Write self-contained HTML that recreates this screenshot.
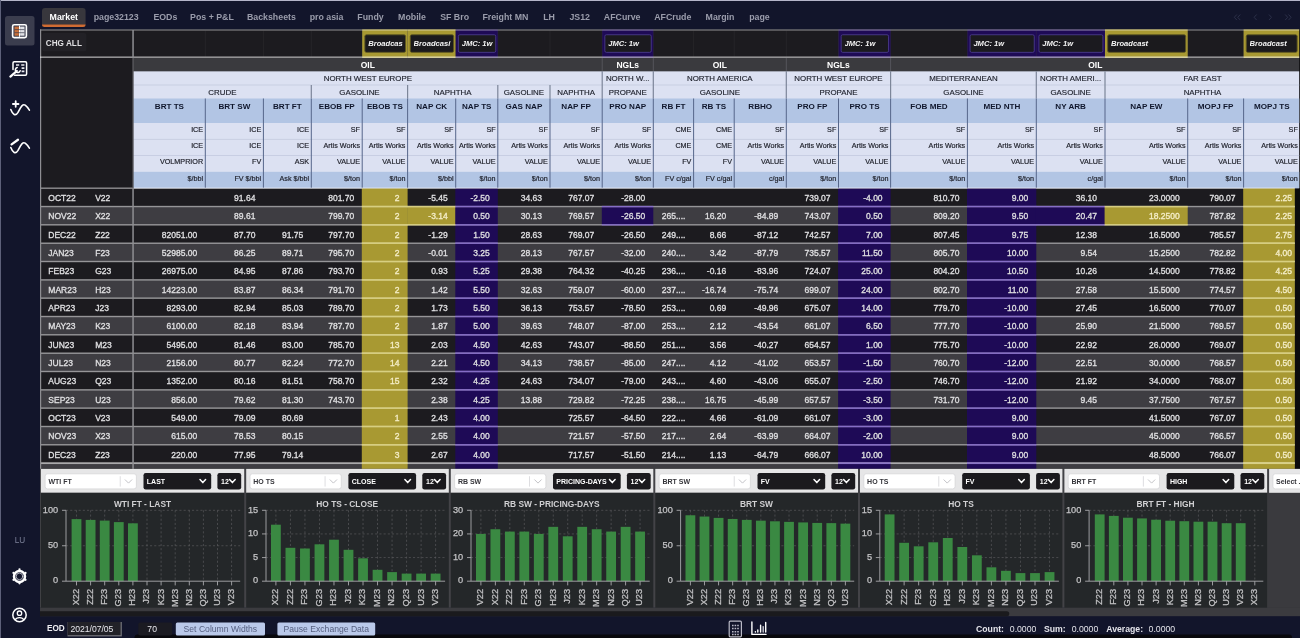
<!DOCTYPE html>
<html lang="en"><head><meta charset="utf-8"><title>Market</title>
<style>html,body{margin:0;padding:0;}
body{width:1300px;height:638px;overflow:hidden;background:#12152b;font-family:"Liberation Sans", sans-serif;position:relative;}
#app{position:absolute;left:0;top:0;width:1300px;height:638px;overflow:hidden;}
#shapes{position:absolute;left:0;top:0;}
.t{position:absolute;white-space:nowrap;overflow:hidden;box-sizing:border-box;}
.tab{font-weight:bold;font-size:8.8px;color:#9a9cab;text-align:center;}
.tab.on{color:#fff;}
.ga{font-weight:bold;font-size:8.5px;color:#fff;text-align:center;}
.gb{font-size:7.9px;color:#1c1f2a;-webkit-text-stroke:0.15px #1c1f2a;text-align:center;}
.cn{font-weight:bold;font-size:8.1px;color:#10172c;text-align:center;}
.hs{font-size:7.2px;color:#1d1f28;-webkit-text-stroke:0.18px #1d1f28;text-align:right;padding-right:2.2px;}
.d{font-weight:normal;-webkit-text-stroke:0.34px #dfdfe1;font-size:8.5px;color:#dfdfe1;text-align:right;padding-right:8px;}
.dl{font-weight:normal;-webkit-text-stroke:0.34px #dfdfe1;font-size:8.5px;color:#dfdfe1;text-align:left;padding-left:8.5px;}
.p{font-weight:normal;-webkit-text-stroke:0.34px #dfdfe1;font-size:8.5px;color:#dfdfe1;text-align:left;}
.bi{font-weight:bold;font-style:italic;font-size:7.6px;color:#f4f4f4;text-align:left;}
.tb{font-weight:bold;font-size:7px;}
.dy{color:#f4edc6;-webkit-text-stroke-color:#f4edc6;}
.st{font-size:8.6px;color:#e8e8ee;}
.ct{font-weight:bold;font-size:8.4px;color:#d0d0d2;text-align:center;}
.yl{font-size:9.2px;color:#c4c4c6;text-align:right;-webkit-text-stroke:0.25px #c4c4c6;}
.xl{font-size:9.2px;color:#c4c4c6;-webkit-text-stroke:0.25px #c4c4c6;text-align:right;transform-origin:0 0;transform:rotate(-90deg);overflow:visible;}
</style></head><body><div id="app">
<svg id="shapes" width="1300" height="638" viewBox="0 0 1300 638">
<rect x="0.00" y="0.00" width="1300.00" height="1.00" fill="#b4b5c9"/>
<rect x="0.00" y="0.00" width="1.00" height="638.00" fill="#5d6079"/>
<rect x="5.00" y="16.00" width="29.50" height="29.40" fill="#3b3d4e" rx="2.5"/>
<g fill="none" stroke="#fff" stroke-linecap="round" stroke-linejoin="round">
<rect x="12.6" y="24.7" width="13.8" height="12.9" rx="1.6" stroke-width="1.6"/>
<rect x="14.5" y="26.6" width="4.4" height="9.1" fill="#c96f3a" stroke="none"/>
<rect x="20.1" y="26.6" width="4.4" height="9.1" fill="#e3e3e8" stroke="none"/>
<path d="M19.5 26v10.4" stroke="#fff" stroke-width="1"/>
<path d="M14.5 29.6h10M14.5 32.7h10" stroke="#3b3d4e" stroke-width="0.7" stroke-linecap="butt"/>
<path d="M14.6 75.2H25.4a1.2 1.2 0 0 0 1.2-1.2V63a1.2 1.2 0 0 0-1.2-1.2H14.2a1.2 1.2 0 0 0-1.2 1.2V69.6" stroke-width="1.5"/>
<path d="M16 65h3.2M21.2 65h3.2M21.6 68.2h2.8M21.6 71.4h2.8" stroke-width="1.7" stroke="#e8e8ee" stroke-linecap="butt"/>
<path d="M10.4 76.6L16.8 71" stroke-width="2.3"/>
<path d="M17.2 67.6a2.5 2.5 0 1 0 3 3.2" stroke-width="1.5"/>
<path d="M10.8 109.6C12.6 114.6 15.6 116.6 18 112.4C20.6 107.6 22.6 103.2 25.2 105.2C26.8 106.4 28.2 108.2 29.4 110.2" stroke-width="1.6"/>
<path d="M15.7 101.2v5.6M12.9 104h5.6" stroke-width="1.8"/>
<path d="M10.8 147.6C12.6 152.6 15.6 154.6 18 150.4C20.6 145.6 22.6 141.2 25.2 143.2C26.8 144.4 28.2 146.2 29.4 148.2" stroke-width="1.6"/>
<path d="M11.6 144.4L18 139.8" stroke-width="2.3"/>
<circle cx="19.5" cy="576.4" r="5.5" stroke-width="2.5"/>
<circle cx="19.5" cy="576.4" r="3.3" stroke-width="0.8" stroke="#cfcfd8"/>
<circle cx="19.50" cy="569.50" r="1.15" fill="#fff" stroke="none"/><circle cx="25.48" cy="572.95" r="1.15" fill="#fff" stroke="none"/><circle cx="25.48" cy="579.85" r="1.15" fill="#fff" stroke="none"/><circle cx="19.50" cy="583.30" r="1.15" fill="#fff" stroke="none"/><circle cx="13.52" cy="579.85" r="1.15" fill="#fff" stroke="none"/><circle cx="13.52" cy="572.95" r="1.15" fill="#fff" stroke="none"/>
<circle cx="19.5" cy="615" r="6.7" stroke-width="1.5"/>
<circle cx="19.5" cy="613.2" r="2.2" stroke-width="1.3"/>
<path d="M15.3 619.8c1-2.8 7.4-2.8 8.4 0" stroke-width="1.3"/>
</g>
<path d="M42 24.7V11a3 3 0 0 1 3-3H82.6a3 3 0 0 1 3 3V24.7z" fill="#38373d"/>
<path d="M42 24.5H85.6a2.5 2.5 0 0 1-2.5 2.5H44.5a2.5 2.5 0 0 1-2.5-2.5z" fill="#cf6c33"/>
<g fill="none" stroke="#2c3049" stroke-width="1" stroke-linecap="round" stroke-linejoin="round">
<path d="M1236.6 14.8l-2.3 2.5 2.3 2.5M1240 14.8l-2.3 2.5 2.3 2.5"/>
<path d="M1256.4 14.8l-2.3 2.5 2.3 2.5"/>
<path d="M1269.2 14.8l2.3 2.5-2.3 2.5"/>
<path d="M1285.4 14.8l2.3 2.5-2.3 2.5M1288.8 14.8l2.3 2.5-2.3 2.5"/>
</g>
<rect x="40.00" y="29.40" width="1260.00" height="439.50" fill="#1c1b1f"/>
<rect x="1294.80" y="188.20" width="5.20" height="280.70" fill="#0b0b0d"/>
<rect x="1299.20" y="30.00" width="0.80" height="158.20" fill="#0b0b0d"/>
<rect x="362.20" y="29.40" width="45.40" height="28.60" fill="#a89932"/>
<rect x="364.85" y="34.75" width="40.70" height="17.60" fill="#1b1a1d" stroke="#5f5822" stroke-width="0.9" rx="1.5"/>
<rect x="407.60" y="29.40" width="48.10" height="28.60" fill="#a89932"/>
<rect x="410.25" y="34.75" width="43.40" height="17.60" fill="#1b1a1d" stroke="#5f5822" stroke-width="0.9" rx="1.5"/>
<rect x="455.70" y="29.40" width="42.10" height="28.60" fill="#1e0a56"/>
<rect x="458.35" y="34.75" width="37.40" height="17.60" fill="#1b1a1f" stroke="#4a3a8c" stroke-width="0.9" rx="1.5"/>
<rect x="602.20" y="29.40" width="51.10" height="28.60" fill="#1e0a56"/>
<rect x="604.85" y="34.75" width="46.40" height="17.60" fill="#1b1a1f" stroke="#4a3a8c" stroke-width="0.9" rx="1.5"/>
<rect x="838.50" y="29.40" width="52.10" height="28.60" fill="#1e0a56"/>
<rect x="841.15" y="34.75" width="47.40" height="17.60" fill="#1b1a1f" stroke="#4a3a8c" stroke-width="0.9" rx="1.5"/>
<rect x="967.40" y="29.40" width="68.90" height="28.60" fill="#1e0a56"/>
<rect x="970.05" y="34.75" width="64.20" height="17.60" fill="#1b1a1f" stroke="#4a3a8c" stroke-width="0.9" rx="1.5"/>
<rect x="1036.30" y="29.40" width="68.70" height="28.60" fill="#1e0a56"/>
<rect x="1038.95" y="34.75" width="64.00" height="17.60" fill="#1b1a1f" stroke="#4a3a8c" stroke-width="0.9" rx="1.5"/>
<rect x="1105.00" y="29.40" width="82.70" height="28.60" fill="#a89932"/>
<rect x="1107.65" y="34.75" width="78.00" height="17.60" fill="#1b1a1d" stroke="#5f5822" stroke-width="0.9" rx="1.5"/>
<rect x="1243.60" y="29.40" width="55.60" height="28.60" fill="#a89932"/>
<rect x="1246.25" y="34.75" width="50.90" height="17.60" fill="#1b1a1d" stroke="#5f5822" stroke-width="0.9" rx="1.5"/>
<rect x="42.20" y="33.00" width="44.20" height="18.20" fill="#222126" rx="2"/>
<rect x="133.00" y="58.00" width="1166.20" height="13.30" fill="#3a3a3e"/>
<rect x="133.00" y="71.30" width="1166.20" height="116.90" fill="#dce1f2"/>
<rect x="133.00" y="98.50" width="1166.20" height="24.50" fill="#b2c5e4"/>
<rect x="133.00" y="171.80" width="1166.20" height="16.40" fill="#b2c5e4"/>
<rect x="133.00" y="84.60" width="1166.20" height="0.80" fill="#c3cadf"/>
<rect x="133.00" y="138.90" width="1166.20" height="0.80" fill="#c3cadf"/>
<rect x="133.00" y="155.00" width="1166.20" height="0.80" fill="#c3cadf"/>
<rect x="601.70" y="58.00" width="1.00" height="13.30" fill="#55555b"/>
<rect x="652.80" y="58.00" width="1.00" height="13.30" fill="#55555b"/>
<rect x="785.80" y="58.00" width="1.00" height="13.30" fill="#55555b"/>
<rect x="890.10" y="58.00" width="1.00" height="13.30" fill="#55555b"/>
<rect x="601.60" y="71.30" width="1.20" height="13.70" fill="#7d8699"/>
<rect x="652.70" y="71.30" width="1.20" height="13.70" fill="#7d8699"/>
<rect x="785.70" y="71.30" width="1.20" height="13.70" fill="#7d8699"/>
<rect x="890.00" y="71.30" width="1.20" height="13.70" fill="#7d8699"/>
<rect x="1035.70" y="71.30" width="1.20" height="13.70" fill="#7d8699"/>
<rect x="1104.40" y="71.30" width="1.20" height="13.70" fill="#7d8699"/>
<rect x="310.70" y="85.00" width="1.20" height="13.50" fill="#7d8699"/>
<rect x="407.00" y="85.00" width="1.20" height="13.50" fill="#7d8699"/>
<rect x="497.20" y="85.00" width="1.20" height="13.50" fill="#7d8699"/>
<rect x="549.40" y="85.00" width="1.20" height="13.50" fill="#7d8699"/>
<rect x="601.60" y="85.00" width="1.20" height="13.50" fill="#7d8699"/>
<rect x="652.70" y="85.00" width="1.20" height="13.50" fill="#7d8699"/>
<rect x="785.70" y="85.00" width="1.20" height="13.50" fill="#7d8699"/>
<rect x="890.00" y="85.00" width="1.20" height="13.50" fill="#7d8699"/>
<rect x="1035.70" y="85.00" width="1.20" height="13.50" fill="#7d8699"/>
<rect x="1104.40" y="85.00" width="1.20" height="13.50" fill="#7d8699"/>
<rect x="204.80" y="98.50" width="1.00" height="89.70" fill="#56668a"/>
<rect x="262.90" y="98.50" width="1.00" height="89.70" fill="#56668a"/>
<rect x="310.80" y="98.50" width="1.00" height="89.70" fill="#56668a"/>
<rect x="361.70" y="98.50" width="1.00" height="89.70" fill="#56668a"/>
<rect x="407.10" y="98.50" width="1.00" height="89.70" fill="#56668a"/>
<rect x="455.20" y="98.50" width="1.00" height="89.70" fill="#56668a"/>
<rect x="497.30" y="98.50" width="1.00" height="89.70" fill="#56668a"/>
<rect x="549.50" y="98.50" width="1.00" height="89.70" fill="#56668a"/>
<rect x="601.70" y="98.50" width="1.00" height="89.70" fill="#56668a"/>
<rect x="652.80" y="98.50" width="1.00" height="89.70" fill="#56668a"/>
<rect x="693.10" y="98.50" width="1.00" height="89.70" fill="#56668a"/>
<rect x="733.70" y="98.50" width="1.00" height="89.70" fill="#56668a"/>
<rect x="785.80" y="98.50" width="1.00" height="89.70" fill="#56668a"/>
<rect x="838.00" y="98.50" width="1.00" height="89.70" fill="#56668a"/>
<rect x="890.10" y="98.50" width="1.00" height="89.70" fill="#56668a"/>
<rect x="966.90" y="98.50" width="1.00" height="89.70" fill="#56668a"/>
<rect x="1035.80" y="98.50" width="1.00" height="89.70" fill="#56668a"/>
<rect x="1104.50" y="98.50" width="1.00" height="89.70" fill="#56668a"/>
<rect x="1187.20" y="98.50" width="1.00" height="89.70" fill="#56668a"/>
<rect x="1243.10" y="98.50" width="1.00" height="89.70" fill="#56668a"/>
<rect x="361.80" y="188.20" width="45.80" height="18.33" fill="#a89932"/>
<rect x="455.30" y="188.20" width="42.50" height="18.33" fill="#1e0a56"/>
<rect x="838.10" y="188.20" width="52.50" height="18.33" fill="#1e0a56"/>
<rect x="967.00" y="188.20" width="69.30" height="18.33" fill="#1e0a56"/>
<rect x="1243.20" y="188.20" width="51.60" height="18.33" fill="#a89932"/>
<rect x="40.50" y="187.50" width="1254.30" height="1.40" fill="#ffffff" fill-opacity="0.5"/>
<rect x="40.50" y="206.53" width="1254.30" height="18.33" fill="#3e3d42"/>
<rect x="361.80" y="206.53" width="45.80" height="18.33" fill="#a89932"/>
<rect x="407.20" y="206.53" width="48.50" height="18.33" fill="#a89932"/>
<rect x="455.30" y="206.53" width="42.50" height="18.33" fill="#1e0a56"/>
<rect x="601.80" y="206.53" width="51.50" height="18.33" fill="#1e0a56"/>
<rect x="838.10" y="206.53" width="52.50" height="18.33" fill="#1e0a56"/>
<rect x="967.00" y="206.53" width="69.30" height="18.33" fill="#1e0a56"/>
<rect x="1035.90" y="206.53" width="69.10" height="18.33" fill="#1e0a56"/>
<rect x="1104.60" y="206.53" width="83.10" height="18.33" fill="#a89932"/>
<rect x="1243.20" y="206.53" width="51.60" height="18.33" fill="#a89932"/>
<rect x="40.50" y="205.83" width="1254.30" height="1.40" fill="#ffffff" fill-opacity="0.5"/>
<rect x="361.80" y="205.83" width="45.80" height="1.40" fill="#dcd27c" fill-opacity="0.85"/>
<rect x="407.20" y="205.83" width="48.50" height="1.40" fill="#dcd27c" fill-opacity="0.85"/>
<rect x="455.30" y="205.83" width="42.50" height="1.40" fill="#8468cc" fill-opacity="0.85"/>
<rect x="601.80" y="205.83" width="51.50" height="1.40" fill="#8468cc" fill-opacity="0.85"/>
<rect x="838.10" y="205.83" width="52.50" height="1.40" fill="#8468cc" fill-opacity="0.85"/>
<rect x="967.00" y="205.83" width="69.30" height="1.40" fill="#8468cc" fill-opacity="0.85"/>
<rect x="1035.90" y="205.83" width="69.10" height="1.40" fill="#8468cc" fill-opacity="0.85"/>
<rect x="1104.60" y="205.83" width="83.10" height="1.40" fill="#dcd27c" fill-opacity="0.85"/>
<rect x="1243.20" y="205.83" width="51.60" height="1.40" fill="#dcd27c" fill-opacity="0.85"/>
<rect x="361.80" y="224.86" width="45.80" height="18.33" fill="#a89932"/>
<rect x="455.30" y="224.86" width="42.50" height="18.33" fill="#1e0a56"/>
<rect x="838.10" y="224.86" width="52.50" height="18.33" fill="#1e0a56"/>
<rect x="967.00" y="224.86" width="69.30" height="18.33" fill="#1e0a56"/>
<rect x="1243.20" y="224.86" width="51.60" height="18.33" fill="#a89932"/>
<rect x="40.50" y="224.16" width="1254.30" height="1.40" fill="#ffffff" fill-opacity="0.5"/>
<rect x="361.80" y="224.16" width="45.80" height="1.40" fill="#dcd27c" fill-opacity="0.85"/>
<rect x="407.20" y="224.16" width="48.50" height="1.40" fill="#dcd27c" fill-opacity="0.85"/>
<rect x="455.30" y="224.16" width="42.50" height="1.40" fill="#8468cc" fill-opacity="0.85"/>
<rect x="601.80" y="224.16" width="51.50" height="1.40" fill="#8468cc" fill-opacity="0.85"/>
<rect x="838.10" y="224.16" width="52.50" height="1.40" fill="#8468cc" fill-opacity="0.85"/>
<rect x="967.00" y="224.16" width="69.30" height="1.40" fill="#8468cc" fill-opacity="0.85"/>
<rect x="1035.90" y="224.16" width="69.10" height="1.40" fill="#8468cc" fill-opacity="0.85"/>
<rect x="1104.60" y="224.16" width="83.10" height="1.40" fill="#dcd27c" fill-opacity="0.85"/>
<rect x="1243.20" y="224.16" width="51.60" height="1.40" fill="#dcd27c" fill-opacity="0.85"/>
<rect x="40.50" y="243.19" width="1254.30" height="18.33" fill="#3e3d42"/>
<rect x="361.80" y="243.19" width="45.80" height="18.33" fill="#a89932"/>
<rect x="455.30" y="243.19" width="42.50" height="18.33" fill="#1e0a56"/>
<rect x="838.10" y="243.19" width="52.50" height="18.33" fill="#1e0a56"/>
<rect x="967.00" y="243.19" width="69.30" height="18.33" fill="#1e0a56"/>
<rect x="1243.20" y="243.19" width="51.60" height="18.33" fill="#a89932"/>
<rect x="40.50" y="242.49" width="1254.30" height="1.40" fill="#ffffff" fill-opacity="0.5"/>
<rect x="361.80" y="242.49" width="45.80" height="1.40" fill="#dcd27c" fill-opacity="0.85"/>
<rect x="455.30" y="242.49" width="42.50" height="1.40" fill="#8468cc" fill-opacity="0.85"/>
<rect x="838.10" y="242.49" width="52.50" height="1.40" fill="#8468cc" fill-opacity="0.85"/>
<rect x="967.00" y="242.49" width="69.30" height="1.40" fill="#8468cc" fill-opacity="0.85"/>
<rect x="1243.20" y="242.49" width="51.60" height="1.40" fill="#dcd27c" fill-opacity="0.85"/>
<rect x="361.80" y="261.52" width="45.80" height="18.33" fill="#a89932"/>
<rect x="455.30" y="261.52" width="42.50" height="18.33" fill="#1e0a56"/>
<rect x="838.10" y="261.52" width="52.50" height="18.33" fill="#1e0a56"/>
<rect x="967.00" y="261.52" width="69.30" height="18.33" fill="#1e0a56"/>
<rect x="1243.20" y="261.52" width="51.60" height="18.33" fill="#a89932"/>
<rect x="40.50" y="260.82" width="1254.30" height="1.40" fill="#ffffff" fill-opacity="0.5"/>
<rect x="361.80" y="260.82" width="45.80" height="1.40" fill="#dcd27c" fill-opacity="0.85"/>
<rect x="455.30" y="260.82" width="42.50" height="1.40" fill="#8468cc" fill-opacity="0.85"/>
<rect x="838.10" y="260.82" width="52.50" height="1.40" fill="#8468cc" fill-opacity="0.85"/>
<rect x="967.00" y="260.82" width="69.30" height="1.40" fill="#8468cc" fill-opacity="0.85"/>
<rect x="1243.20" y="260.82" width="51.60" height="1.40" fill="#dcd27c" fill-opacity="0.85"/>
<rect x="40.50" y="279.85" width="1254.30" height="18.33" fill="#3e3d42"/>
<rect x="361.80" y="279.85" width="45.80" height="18.33" fill="#a89932"/>
<rect x="455.30" y="279.85" width="42.50" height="18.33" fill="#1e0a56"/>
<rect x="838.10" y="279.85" width="52.50" height="18.33" fill="#1e0a56"/>
<rect x="967.00" y="279.85" width="69.30" height="18.33" fill="#1e0a56"/>
<rect x="1243.20" y="279.85" width="51.60" height="18.33" fill="#a89932"/>
<rect x="40.50" y="279.15" width="1254.30" height="1.40" fill="#ffffff" fill-opacity="0.5"/>
<rect x="361.80" y="279.15" width="45.80" height="1.40" fill="#dcd27c" fill-opacity="0.85"/>
<rect x="455.30" y="279.15" width="42.50" height="1.40" fill="#8468cc" fill-opacity="0.85"/>
<rect x="838.10" y="279.15" width="52.50" height="1.40" fill="#8468cc" fill-opacity="0.85"/>
<rect x="967.00" y="279.15" width="69.30" height="1.40" fill="#8468cc" fill-opacity="0.85"/>
<rect x="1243.20" y="279.15" width="51.60" height="1.40" fill="#dcd27c" fill-opacity="0.85"/>
<rect x="361.80" y="298.18" width="45.80" height="18.33" fill="#a89932"/>
<rect x="455.30" y="298.18" width="42.50" height="18.33" fill="#1e0a56"/>
<rect x="838.10" y="298.18" width="52.50" height="18.33" fill="#1e0a56"/>
<rect x="967.00" y="298.18" width="69.30" height="18.33" fill="#1e0a56"/>
<rect x="1243.20" y="298.18" width="51.60" height="18.33" fill="#a89932"/>
<rect x="40.50" y="297.48" width="1254.30" height="1.40" fill="#ffffff" fill-opacity="0.5"/>
<rect x="361.80" y="297.48" width="45.80" height="1.40" fill="#dcd27c" fill-opacity="0.85"/>
<rect x="455.30" y="297.48" width="42.50" height="1.40" fill="#8468cc" fill-opacity="0.85"/>
<rect x="838.10" y="297.48" width="52.50" height="1.40" fill="#8468cc" fill-opacity="0.85"/>
<rect x="967.00" y="297.48" width="69.30" height="1.40" fill="#8468cc" fill-opacity="0.85"/>
<rect x="1243.20" y="297.48" width="51.60" height="1.40" fill="#dcd27c" fill-opacity="0.85"/>
<rect x="40.50" y="316.51" width="1254.30" height="18.33" fill="#3e3d42"/>
<rect x="361.80" y="316.51" width="45.80" height="18.33" fill="#a89932"/>
<rect x="455.30" y="316.51" width="42.50" height="18.33" fill="#1e0a56"/>
<rect x="838.10" y="316.51" width="52.50" height="18.33" fill="#1e0a56"/>
<rect x="967.00" y="316.51" width="69.30" height="18.33" fill="#1e0a56"/>
<rect x="1243.20" y="316.51" width="51.60" height="18.33" fill="#a89932"/>
<rect x="40.50" y="315.81" width="1254.30" height="1.40" fill="#ffffff" fill-opacity="0.5"/>
<rect x="361.80" y="315.81" width="45.80" height="1.40" fill="#dcd27c" fill-opacity="0.85"/>
<rect x="455.30" y="315.81" width="42.50" height="1.40" fill="#8468cc" fill-opacity="0.85"/>
<rect x="838.10" y="315.81" width="52.50" height="1.40" fill="#8468cc" fill-opacity="0.85"/>
<rect x="967.00" y="315.81" width="69.30" height="1.40" fill="#8468cc" fill-opacity="0.85"/>
<rect x="1243.20" y="315.81" width="51.60" height="1.40" fill="#dcd27c" fill-opacity="0.85"/>
<rect x="361.80" y="334.84" width="45.80" height="18.33" fill="#a89932"/>
<rect x="455.30" y="334.84" width="42.50" height="18.33" fill="#1e0a56"/>
<rect x="838.10" y="334.84" width="52.50" height="18.33" fill="#1e0a56"/>
<rect x="967.00" y="334.84" width="69.30" height="18.33" fill="#1e0a56"/>
<rect x="1243.20" y="334.84" width="51.60" height="18.33" fill="#a89932"/>
<rect x="40.50" y="334.14" width="1254.30" height="1.40" fill="#ffffff" fill-opacity="0.5"/>
<rect x="361.80" y="334.14" width="45.80" height="1.40" fill="#dcd27c" fill-opacity="0.85"/>
<rect x="455.30" y="334.14" width="42.50" height="1.40" fill="#8468cc" fill-opacity="0.85"/>
<rect x="838.10" y="334.14" width="52.50" height="1.40" fill="#8468cc" fill-opacity="0.85"/>
<rect x="967.00" y="334.14" width="69.30" height="1.40" fill="#8468cc" fill-opacity="0.85"/>
<rect x="1243.20" y="334.14" width="51.60" height="1.40" fill="#dcd27c" fill-opacity="0.85"/>
<rect x="40.50" y="353.17" width="1254.30" height="18.33" fill="#3e3d42"/>
<rect x="361.80" y="353.17" width="45.80" height="18.33" fill="#a89932"/>
<rect x="455.30" y="353.17" width="42.50" height="18.33" fill="#1e0a56"/>
<rect x="838.10" y="353.17" width="52.50" height="18.33" fill="#1e0a56"/>
<rect x="967.00" y="353.17" width="69.30" height="18.33" fill="#1e0a56"/>
<rect x="1243.20" y="353.17" width="51.60" height="18.33" fill="#a89932"/>
<rect x="40.50" y="352.47" width="1254.30" height="1.40" fill="#ffffff" fill-opacity="0.5"/>
<rect x="361.80" y="352.47" width="45.80" height="1.40" fill="#dcd27c" fill-opacity="0.85"/>
<rect x="455.30" y="352.47" width="42.50" height="1.40" fill="#8468cc" fill-opacity="0.85"/>
<rect x="838.10" y="352.47" width="52.50" height="1.40" fill="#8468cc" fill-opacity="0.85"/>
<rect x="967.00" y="352.47" width="69.30" height="1.40" fill="#8468cc" fill-opacity="0.85"/>
<rect x="1243.20" y="352.47" width="51.60" height="1.40" fill="#dcd27c" fill-opacity="0.85"/>
<rect x="361.80" y="371.50" width="45.80" height="18.33" fill="#a89932"/>
<rect x="455.30" y="371.50" width="42.50" height="18.33" fill="#1e0a56"/>
<rect x="838.10" y="371.50" width="52.50" height="18.33" fill="#1e0a56"/>
<rect x="967.00" y="371.50" width="69.30" height="18.33" fill="#1e0a56"/>
<rect x="1243.20" y="371.50" width="51.60" height="18.33" fill="#a89932"/>
<rect x="40.50" y="370.80" width="1254.30" height="1.40" fill="#ffffff" fill-opacity="0.5"/>
<rect x="361.80" y="370.80" width="45.80" height="1.40" fill="#dcd27c" fill-opacity="0.85"/>
<rect x="455.30" y="370.80" width="42.50" height="1.40" fill="#8468cc" fill-opacity="0.85"/>
<rect x="838.10" y="370.80" width="52.50" height="1.40" fill="#8468cc" fill-opacity="0.85"/>
<rect x="967.00" y="370.80" width="69.30" height="1.40" fill="#8468cc" fill-opacity="0.85"/>
<rect x="1243.20" y="370.80" width="51.60" height="1.40" fill="#dcd27c" fill-opacity="0.85"/>
<rect x="40.50" y="389.83" width="1254.30" height="18.33" fill="#3e3d42"/>
<rect x="361.80" y="389.83" width="45.80" height="18.33" fill="#a89932"/>
<rect x="455.30" y="389.83" width="42.50" height="18.33" fill="#1e0a56"/>
<rect x="838.10" y="389.83" width="52.50" height="18.33" fill="#1e0a56"/>
<rect x="967.00" y="389.83" width="69.30" height="18.33" fill="#1e0a56"/>
<rect x="1243.20" y="389.83" width="51.60" height="18.33" fill="#a89932"/>
<rect x="40.50" y="389.13" width="1254.30" height="1.40" fill="#ffffff" fill-opacity="0.5"/>
<rect x="361.80" y="389.13" width="45.80" height="1.40" fill="#dcd27c" fill-opacity="0.85"/>
<rect x="455.30" y="389.13" width="42.50" height="1.40" fill="#8468cc" fill-opacity="0.85"/>
<rect x="838.10" y="389.13" width="52.50" height="1.40" fill="#8468cc" fill-opacity="0.85"/>
<rect x="967.00" y="389.13" width="69.30" height="1.40" fill="#8468cc" fill-opacity="0.85"/>
<rect x="1243.20" y="389.13" width="51.60" height="1.40" fill="#dcd27c" fill-opacity="0.85"/>
<rect x="361.80" y="408.16" width="45.80" height="18.33" fill="#a89932"/>
<rect x="455.30" y="408.16" width="42.50" height="18.33" fill="#1e0a56"/>
<rect x="838.10" y="408.16" width="52.50" height="18.33" fill="#1e0a56"/>
<rect x="967.00" y="408.16" width="69.30" height="18.33" fill="#1e0a56"/>
<rect x="1243.20" y="408.16" width="51.60" height="18.33" fill="#a89932"/>
<rect x="40.50" y="407.46" width="1254.30" height="1.40" fill="#ffffff" fill-opacity="0.5"/>
<rect x="361.80" y="407.46" width="45.80" height="1.40" fill="#dcd27c" fill-opacity="0.85"/>
<rect x="455.30" y="407.46" width="42.50" height="1.40" fill="#8468cc" fill-opacity="0.85"/>
<rect x="838.10" y="407.46" width="52.50" height="1.40" fill="#8468cc" fill-opacity="0.85"/>
<rect x="967.00" y="407.46" width="69.30" height="1.40" fill="#8468cc" fill-opacity="0.85"/>
<rect x="1243.20" y="407.46" width="51.60" height="1.40" fill="#dcd27c" fill-opacity="0.85"/>
<rect x="40.50" y="426.49" width="1254.30" height="18.33" fill="#3e3d42"/>
<rect x="361.80" y="426.49" width="45.80" height="18.33" fill="#a89932"/>
<rect x="455.30" y="426.49" width="42.50" height="18.33" fill="#1e0a56"/>
<rect x="838.10" y="426.49" width="52.50" height="18.33" fill="#1e0a56"/>
<rect x="967.00" y="426.49" width="69.30" height="18.33" fill="#1e0a56"/>
<rect x="1243.20" y="426.49" width="51.60" height="18.33" fill="#a89932"/>
<rect x="40.50" y="425.79" width="1254.30" height="1.40" fill="#ffffff" fill-opacity="0.5"/>
<rect x="361.80" y="425.79" width="45.80" height="1.40" fill="#dcd27c" fill-opacity="0.85"/>
<rect x="455.30" y="425.79" width="42.50" height="1.40" fill="#8468cc" fill-opacity="0.85"/>
<rect x="838.10" y="425.79" width="52.50" height="1.40" fill="#8468cc" fill-opacity="0.85"/>
<rect x="967.00" y="425.79" width="69.30" height="1.40" fill="#8468cc" fill-opacity="0.85"/>
<rect x="1243.20" y="425.79" width="51.60" height="1.40" fill="#dcd27c" fill-opacity="0.85"/>
<rect x="361.80" y="444.82" width="45.80" height="18.33" fill="#a89932"/>
<rect x="455.30" y="444.82" width="42.50" height="18.33" fill="#1e0a56"/>
<rect x="838.10" y="444.82" width="52.50" height="18.33" fill="#1e0a56"/>
<rect x="967.00" y="444.82" width="69.30" height="18.33" fill="#1e0a56"/>
<rect x="1243.20" y="444.82" width="51.60" height="18.33" fill="#a89932"/>
<rect x="40.50" y="444.12" width="1254.30" height="1.40" fill="#ffffff" fill-opacity="0.5"/>
<rect x="361.80" y="444.12" width="45.80" height="1.40" fill="#dcd27c" fill-opacity="0.85"/>
<rect x="455.30" y="444.12" width="42.50" height="1.40" fill="#8468cc" fill-opacity="0.85"/>
<rect x="838.10" y="444.12" width="52.50" height="1.40" fill="#8468cc" fill-opacity="0.85"/>
<rect x="967.00" y="444.12" width="69.30" height="1.40" fill="#8468cc" fill-opacity="0.85"/>
<rect x="1243.20" y="444.12" width="51.60" height="1.40" fill="#dcd27c" fill-opacity="0.85"/>
<rect x="40.50" y="463.15" width="1254.30" height="5.75" fill="#3e3d42"/>
<rect x="361.80" y="463.15" width="45.80" height="5.75" fill="#a89932"/>
<rect x="455.30" y="463.15" width="42.50" height="5.75" fill="#1e0a56"/>
<rect x="838.10" y="463.15" width="52.50" height="5.75" fill="#1e0a56"/>
<rect x="967.00" y="463.15" width="69.30" height="5.75" fill="#1e0a56"/>
<rect x="1243.20" y="463.15" width="51.60" height="5.75" fill="#a89932"/>
<rect x="40.50" y="462.45" width="1254.30" height="1.40" fill="#ffffff" fill-opacity="0.5"/>
<rect x="40.50" y="461.95" width="1254.30" height="2.20" fill="#ffffff" fill-opacity="0.25"/>
<rect x="361.80" y="462.45" width="45.80" height="1.40" fill="#dcd27c" fill-opacity="0.85"/>
<rect x="455.30" y="462.45" width="42.50" height="1.40" fill="#8468cc" fill-opacity="0.85"/>
<rect x="838.10" y="462.45" width="52.50" height="1.40" fill="#8468cc" fill-opacity="0.85"/>
<rect x="967.00" y="462.45" width="69.30" height="1.40" fill="#8468cc" fill-opacity="0.85"/>
<rect x="1243.20" y="462.45" width="51.60" height="1.40" fill="#dcd27c" fill-opacity="0.85"/>
<rect x="40.00" y="29.40" width="1259.20" height="1.20" fill="#ffffff" fill-opacity="0.44"/>
<rect x="204.80" y="30.60" width="1.00" height="26.00" fill="#ffffff" fill-opacity="0.045"/>
<rect x="262.90" y="30.60" width="1.00" height="26.00" fill="#ffffff" fill-opacity="0.045"/>
<rect x="310.80" y="30.60" width="1.00" height="26.00" fill="#ffffff" fill-opacity="0.045"/>
<rect x="361.70" y="30.60" width="1.00" height="26.00" fill="#ffffff" fill-opacity="0.045"/>
<rect x="407.10" y="30.60" width="1.00" height="26.00" fill="#ffffff" fill-opacity="0.045"/>
<rect x="455.20" y="30.60" width="1.00" height="26.00" fill="#ffffff" fill-opacity="0.045"/>
<rect x="497.30" y="30.60" width="1.00" height="26.00" fill="#ffffff" fill-opacity="0.045"/>
<rect x="549.50" y="30.60" width="1.00" height="26.00" fill="#ffffff" fill-opacity="0.045"/>
<rect x="601.70" y="30.60" width="1.00" height="26.00" fill="#ffffff" fill-opacity="0.045"/>
<rect x="652.80" y="30.60" width="1.00" height="26.00" fill="#ffffff" fill-opacity="0.045"/>
<rect x="693.10" y="30.60" width="1.00" height="26.00" fill="#ffffff" fill-opacity="0.045"/>
<rect x="733.70" y="30.60" width="1.00" height="26.00" fill="#ffffff" fill-opacity="0.045"/>
<rect x="785.80" y="30.60" width="1.00" height="26.00" fill="#ffffff" fill-opacity="0.045"/>
<rect x="838.00" y="30.60" width="1.00" height="26.00" fill="#ffffff" fill-opacity="0.045"/>
<rect x="890.10" y="30.60" width="1.00" height="26.00" fill="#ffffff" fill-opacity="0.045"/>
<rect x="966.90" y="30.60" width="1.00" height="26.00" fill="#ffffff" fill-opacity="0.045"/>
<rect x="1035.80" y="30.60" width="1.00" height="26.00" fill="#ffffff" fill-opacity="0.045"/>
<rect x="1104.50" y="30.60" width="1.00" height="26.00" fill="#ffffff" fill-opacity="0.045"/>
<rect x="1187.20" y="30.60" width="1.00" height="26.00" fill="#ffffff" fill-opacity="0.045"/>
<rect x="1243.10" y="30.60" width="1.00" height="26.00" fill="#ffffff" fill-opacity="0.045"/>
<rect x="40.00" y="29.40" width="1.20" height="439.50" fill="#8e8e92"/>
<rect x="40.00" y="56.40" width="1259.20" height="1.60" fill="#ffffff" fill-opacity="0.52"/>
<rect x="132.30" y="30.00" width="1.50" height="28.00" fill="#8e8e92"/>
<rect x="132.30" y="188.20" width="1.50" height="280.70" fill="#8e8e92"/>
<rect x="132.40" y="58.00" width="1.30" height="130.20" fill="#5c5c60"/>
<rect x="40.00" y="468.90" width="1260.00" height="138.90" fill="#434347"/>
<rect x="1267.10" y="492.80" width="32.90" height="115.00" fill="#3a3a3e"/>
<rect x="40.90" y="468.90" width="203.30" height="23.90" fill="#e6e6e7"/>
<rect x="40.90" y="492.80" width="203.30" height="115.00" fill="#242729"/>
<rect x="45.10" y="473.80" width="91.30" height="15.10" fill="#fff" stroke="#d6d6d8" stroke-width="0.8" rx="2.4"/>
<rect x="119.80" y="476.20" width="0.70" height="10.40" fill="#d0d0d4"/>
<rect x="143.50" y="473.00" width="67.70" height="16.40" fill="#1b1a1e" rx="2.2"/>
<rect x="217.40" y="473.00" width="23.80" height="16.40" fill="#1b1a1e" rx="2.2"/>
<path d="M125.20 479.80l3.30 3.30 3.30 -3.30" fill="none" stroke="#c4c4c8" stroke-width="1.0" stroke-linecap="round" stroke-linejoin="round"/>
<path d="M200.00 479.60l2.80 3.00 2.80 -3.00" fill="none" stroke="#fff" stroke-width="1.5" stroke-linecap="round" stroke-linejoin="round"/>
<path d="M229.60 479.60l2.80 3.00 2.80 -3.00" fill="none" stroke="#fff" stroke-width="1.5" stroke-linecap="round" stroke-linejoin="round"/>
<path d="M66.00 545.75H240.20M66.00 510.30H240.20M76.50 510.30V581.20M90.60 510.30V581.20M104.70 510.30V581.20M118.80 510.30V581.20M132.90 510.30V581.20M147.00 510.30V581.20M161.10 510.30V581.20M175.20 510.30V581.20M189.30 510.30V581.20M203.40 510.30V581.20M217.50 510.30V581.20M231.60 510.30V581.20" stroke="#5c5c60" stroke-width="0.65" stroke-dasharray="2.1 2.1" fill="none"/>
<rect x="71.60" y="519.10" width="9.80" height="62.10" fill="#3a8942"/>
<rect x="85.70" y="519.90" width="9.80" height="61.30" fill="#3a8942"/>
<rect x="99.80" y="520.60" width="9.80" height="60.60" fill="#3a8942"/>
<rect x="113.90" y="522.10" width="9.80" height="59.10" fill="#3a8942"/>
<rect x="128.00" y="523.30" width="9.80" height="57.90" fill="#3a8942"/>
<path d="M66.00 510.30V581.20H240.20M62.00 581.20H66.00M62.00 545.75H66.00M62.00 510.30H66.00M76.50 581.20v4.2M90.60 581.20v4.2M104.70 581.20v4.2M118.80 581.20v4.2M132.90 581.20v4.2M147.00 581.20v4.2M161.10 581.20v4.2M175.20 581.20v4.2M189.30 581.20v4.2M203.40 581.20v4.2M217.50 581.20v4.2M231.60 581.20v4.2" stroke="#a9a9ad" stroke-width="0.9" fill="none"/>
<rect x="246.20" y="468.90" width="202.60" height="23.90" fill="#e6e6e7"/>
<rect x="246.20" y="492.80" width="202.60" height="115.00" fill="#242729"/>
<rect x="250.00" y="473.80" width="91.30" height="15.10" fill="#fff" stroke="#d6d6d8" stroke-width="0.8" rx="2.4"/>
<rect x="324.70" y="476.20" width="0.70" height="10.40" fill="#d0d0d4"/>
<rect x="348.40" y="473.00" width="67.70" height="16.40" fill="#1b1a1e" rx="2.2"/>
<rect x="422.30" y="473.00" width="23.80" height="16.40" fill="#1b1a1e" rx="2.2"/>
<path d="M330.10 479.80l3.30 3.30 3.30 -3.30" fill="none" stroke="#c4c4c8" stroke-width="1.0" stroke-linecap="round" stroke-linejoin="round"/>
<path d="M404.90 479.60l2.80 3.00 2.80 -3.00" fill="none" stroke="#fff" stroke-width="1.5" stroke-linecap="round" stroke-linejoin="round"/>
<path d="M434.50 479.60l2.80 3.00 2.80 -3.00" fill="none" stroke="#fff" stroke-width="1.5" stroke-linecap="round" stroke-linejoin="round"/>
<path d="M266.00 557.57H445.10M266.00 533.93H445.10M266.00 510.30H445.10M275.90 510.30V581.20M290.42 510.30V581.20M304.94 510.30V581.20M319.46 510.30V581.20M333.98 510.30V581.20M348.50 510.30V581.20M363.02 510.30V581.20M377.54 510.30V581.20M392.06 510.30V581.20M406.58 510.30V581.20M421.10 510.30V581.20M435.62 510.30V581.20" stroke="#5c5c60" stroke-width="0.65" stroke-dasharray="2.1 2.1" fill="none"/>
<rect x="271.00" y="524.70" width="9.80" height="56.50" fill="#3a8942"/>
<rect x="285.52" y="547.80" width="9.80" height="33.40" fill="#3a8942"/>
<rect x="300.04" y="548.50" width="9.80" height="32.70" fill="#3a8942"/>
<rect x="314.56" y="544.30" width="9.80" height="36.90" fill="#3a8942"/>
<rect x="329.08" y="539.70" width="9.80" height="41.50" fill="#3a8942"/>
<rect x="343.60" y="549.80" width="9.80" height="31.40" fill="#3a8942"/>
<rect x="358.12" y="558.30" width="9.80" height="22.90" fill="#3a8942"/>
<rect x="372.64" y="569.80" width="9.80" height="11.40" fill="#3a8942"/>
<rect x="387.16" y="572.10" width="9.80" height="9.10" fill="#3a8942"/>
<rect x="401.68" y="573.60" width="9.80" height="7.60" fill="#3a8942"/>
<rect x="416.20" y="573.60" width="9.80" height="7.60" fill="#3a8942"/>
<rect x="430.72" y="573.60" width="9.80" height="7.60" fill="#3a8942"/>
<path d="M266.00 510.30V581.20H445.10M262.00 581.20H266.00M262.00 557.57H266.00M262.00 533.93H266.00M262.00 510.30H266.00M275.90 581.20v4.2M290.42 581.20v4.2M304.94 581.20v4.2M319.46 581.20v4.2M333.98 581.20v4.2M348.50 581.20v4.2M363.02 581.20v4.2M377.54 581.20v4.2M392.06 581.20v4.2M406.58 581.20v4.2M421.10 581.20v4.2M435.62 581.20v4.2" stroke="#a9a9ad" stroke-width="0.9" fill="none"/>
<rect x="450.80" y="468.90" width="202.50" height="23.90" fill="#e6e6e7"/>
<rect x="450.80" y="492.80" width="202.50" height="115.00" fill="#242729"/>
<rect x="454.60" y="473.80" width="91.30" height="15.10" fill="#fff" stroke="#d6d6d8" stroke-width="0.8" rx="2.4"/>
<rect x="529.30" y="476.20" width="0.70" height="10.40" fill="#d0d0d4"/>
<rect x="553.00" y="473.00" width="67.70" height="16.40" fill="#1b1a1e" rx="2.2"/>
<rect x="626.90" y="473.00" width="23.80" height="16.40" fill="#1b1a1e" rx="2.2"/>
<path d="M534.70 479.80l3.30 3.30 3.30 -3.30" fill="none" stroke="#c4c4c8" stroke-width="1.0" stroke-linecap="round" stroke-linejoin="round"/>
<path d="M609.50 479.60l2.80 3.00 2.80 -3.00" fill="none" stroke="#fff" stroke-width="1.5" stroke-linecap="round" stroke-linejoin="round"/>
<path d="M639.10 479.60l2.80 3.00 2.80 -3.00" fill="none" stroke="#fff" stroke-width="1.5" stroke-linecap="round" stroke-linejoin="round"/>
<path d="M471.00 557.57H649.70M471.00 533.93H649.70M471.00 510.30H649.70M480.90 510.30V581.20M495.37 510.30V581.20M509.84 510.30V581.20M524.31 510.30V581.20M538.78 510.30V581.20M553.25 510.30V581.20M567.72 510.30V581.20M582.19 510.30V581.20M596.66 510.30V581.20M611.13 510.30V581.20M625.60 510.30V581.20M640.07 510.30V581.20" stroke="#5c5c60" stroke-width="0.65" stroke-dasharray="2.1 2.1" fill="none"/>
<rect x="476.00" y="533.93" width="9.80" height="47.27" fill="#3a8942"/>
<rect x="490.47" y="529.21" width="9.80" height="51.99" fill="#3a8942"/>
<rect x="504.94" y="531.57" width="9.80" height="49.63" fill="#3a8942"/>
<rect x="519.41" y="531.57" width="9.80" height="49.63" fill="#3a8942"/>
<rect x="533.88" y="533.93" width="9.80" height="47.27" fill="#3a8942"/>
<rect x="548.35" y="526.84" width="9.80" height="54.36" fill="#3a8942"/>
<rect x="562.82" y="536.30" width="9.80" height="44.90" fill="#3a8942"/>
<rect x="577.29" y="526.84" width="9.80" height="54.36" fill="#3a8942"/>
<rect x="591.76" y="529.21" width="9.80" height="51.99" fill="#3a8942"/>
<rect x="606.23" y="531.57" width="9.80" height="49.63" fill="#3a8942"/>
<rect x="620.70" y="526.84" width="9.80" height="54.36" fill="#3a8942"/>
<rect x="635.17" y="531.57" width="9.80" height="49.63" fill="#3a8942"/>
<path d="M471.00 510.30V581.20H649.70M467.00 581.20H471.00M467.00 557.57H471.00M467.00 533.93H471.00M467.00 510.30H471.00M480.90 581.20v4.2M495.37 581.20v4.2M509.84 581.20v4.2M524.31 581.20v4.2M538.78 581.20v4.2M553.25 581.20v4.2M567.72 581.20v4.2M582.19 581.20v4.2M596.66 581.20v4.2M611.13 581.20v4.2M625.60 581.20v4.2M640.07 581.20v4.2" stroke="#a9a9ad" stroke-width="0.9" fill="none"/>
<rect x="655.30" y="468.90" width="202.70" height="23.90" fill="#e6e6e7"/>
<rect x="655.30" y="492.80" width="202.70" height="115.00" fill="#242729"/>
<rect x="659.10" y="473.80" width="91.30" height="15.10" fill="#fff" stroke="#d6d6d8" stroke-width="0.8" rx="2.4"/>
<rect x="733.80" y="476.20" width="0.70" height="10.40" fill="#d0d0d4"/>
<rect x="757.50" y="473.00" width="67.70" height="16.40" fill="#1b1a1e" rx="2.2"/>
<rect x="831.40" y="473.00" width="23.80" height="16.40" fill="#1b1a1e" rx="2.2"/>
<path d="M739.20 479.80l3.30 3.30 3.30 -3.30" fill="none" stroke="#c4c4c8" stroke-width="1.0" stroke-linecap="round" stroke-linejoin="round"/>
<path d="M814.00 479.60l2.80 3.00 2.80 -3.00" fill="none" stroke="#fff" stroke-width="1.5" stroke-linecap="round" stroke-linejoin="round"/>
<path d="M843.60 479.60l2.80 3.00 2.80 -3.00" fill="none" stroke="#fff" stroke-width="1.5" stroke-linecap="round" stroke-linejoin="round"/>
<path d="M680.60 545.75H854.20M680.60 510.30H854.20M690.40 510.30V581.20M704.49 510.30V581.20M718.58 510.30V581.20M732.67 510.30V581.20M746.76 510.30V581.20M760.85 510.30V581.20M774.94 510.30V581.20M789.03 510.30V581.20M803.12 510.30V581.20M817.21 510.30V581.20M831.30 510.30V581.20M845.39 510.30V581.20" stroke="#5c5c60" stroke-width="0.65" stroke-dasharray="2.1 2.1" fill="none"/>
<rect x="685.50" y="515.26" width="9.80" height="65.94" fill="#3a8942"/>
<rect x="699.59" y="516.54" width="9.80" height="64.66" fill="#3a8942"/>
<rect x="713.68" y="517.89" width="9.80" height="63.31" fill="#3a8942"/>
<rect x="727.77" y="518.95" width="9.80" height="62.25" fill="#3a8942"/>
<rect x="741.86" y="519.87" width="9.80" height="61.33" fill="#3a8942"/>
<rect x="755.95" y="520.65" width="9.80" height="60.55" fill="#3a8942"/>
<rect x="770.04" y="521.29" width="9.80" height="59.91" fill="#3a8942"/>
<rect x="784.13" y="521.86" width="9.80" height="59.34" fill="#3a8942"/>
<rect x="798.22" y="522.42" width="9.80" height="58.78" fill="#3a8942"/>
<rect x="812.31" y="522.92" width="9.80" height="58.28" fill="#3a8942"/>
<rect x="826.40" y="523.13" width="9.80" height="58.07" fill="#3a8942"/>
<rect x="840.49" y="523.63" width="9.80" height="57.57" fill="#3a8942"/>
<path d="M680.60 510.30V581.20H854.20M676.60 581.20H680.60M676.60 545.75H680.60M676.60 510.30H680.60M690.40 581.20v4.2M704.49 581.20v4.2M718.58 581.20v4.2M732.67 581.20v4.2M746.76 581.20v4.2M760.85 581.20v4.2M774.94 581.20v4.2M789.03 581.20v4.2M803.12 581.20v4.2M817.21 581.20v4.2M831.30 581.20v4.2M845.39 581.20v4.2" stroke="#a9a9ad" stroke-width="0.9" fill="none"/>
<rect x="860.00" y="468.90" width="202.40" height="23.90" fill="#e6e6e7"/>
<rect x="860.00" y="492.80" width="202.40" height="115.00" fill="#242729"/>
<rect x="863.80" y="473.80" width="91.30" height="15.10" fill="#fff" stroke="#d6d6d8" stroke-width="0.8" rx="2.4"/>
<rect x="938.50" y="476.20" width="0.70" height="10.40" fill="#d0d0d4"/>
<rect x="962.20" y="473.00" width="67.70" height="16.40" fill="#1b1a1e" rx="2.2"/>
<rect x="1036.10" y="473.00" width="23.80" height="16.40" fill="#1b1a1e" rx="2.2"/>
<path d="M943.90 479.80l3.30 3.30 3.30 -3.30" fill="none" stroke="#c4c4c8" stroke-width="1.0" stroke-linecap="round" stroke-linejoin="round"/>
<path d="M1018.70 479.60l2.80 3.00 2.80 -3.00" fill="none" stroke="#fff" stroke-width="1.5" stroke-linecap="round" stroke-linejoin="round"/>
<path d="M1048.30 479.60l2.80 3.00 2.80 -3.00" fill="none" stroke="#fff" stroke-width="1.5" stroke-linecap="round" stroke-linejoin="round"/>
<path d="M879.80 557.57H1058.90M879.80 533.93H1058.90M879.80 510.30H1058.90M889.60 510.30V581.20M904.14 510.30V581.20M918.68 510.30V581.20M933.22 510.30V581.20M947.76 510.30V581.20M962.30 510.30V581.20M976.84 510.30V581.20M991.38 510.30V581.20M1005.92 510.30V581.20M1020.46 510.30V581.20M1035.00 510.30V581.20M1049.54 510.30V581.20" stroke="#5c5c60" stroke-width="0.65" stroke-dasharray="2.1 2.1" fill="none"/>
<rect x="884.70" y="514.40" width="9.80" height="66.80" fill="#3a8942"/>
<rect x="899.24" y="542.80" width="9.80" height="38.40" fill="#3a8942"/>
<rect x="913.78" y="546.30" width="9.80" height="34.90" fill="#3a8942"/>
<rect x="928.32" y="542.30" width="9.80" height="38.90" fill="#3a8942"/>
<rect x="942.86" y="538.00" width="9.80" height="43.20" fill="#3a8942"/>
<rect x="957.40" y="547.00" width="9.80" height="34.20" fill="#3a8942"/>
<rect x="971.94" y="555.30" width="9.80" height="25.90" fill="#3a8942"/>
<rect x="986.48" y="567.30" width="9.80" height="13.90" fill="#3a8942"/>
<rect x="1001.02" y="570.80" width="9.80" height="10.40" fill="#3a8942"/>
<rect x="1015.56" y="573.10" width="9.80" height="8.10" fill="#3a8942"/>
<rect x="1030.10" y="573.10" width="9.80" height="8.10" fill="#3a8942"/>
<rect x="1044.64" y="572.10" width="9.80" height="9.10" fill="#3a8942"/>
<path d="M879.80 510.30V581.20H1058.90M875.80 581.20H879.80M875.80 557.57H879.80M875.80 533.93H879.80M875.80 510.30H879.80M889.60 581.20v4.2M904.14 581.20v4.2M918.68 581.20v4.2M933.22 581.20v4.2M947.76 581.20v4.2M962.30 581.20v4.2M976.84 581.20v4.2M991.38 581.20v4.2M1005.92 581.20v4.2M1020.46 581.20v4.2M1035.00 581.20v4.2M1049.54 581.20v4.2" stroke="#a9a9ad" stroke-width="0.9" fill="none"/>
<rect x="1064.40" y="468.90" width="202.70" height="23.90" fill="#e6e6e7"/>
<rect x="1064.40" y="492.80" width="202.70" height="115.00" fill="#242729"/>
<rect x="1068.20" y="473.80" width="91.30" height="15.10" fill="#fff" stroke="#d6d6d8" stroke-width="0.8" rx="2.4"/>
<rect x="1142.90" y="476.20" width="0.70" height="10.40" fill="#d0d0d4"/>
<rect x="1166.60" y="473.00" width="67.70" height="16.40" fill="#1b1a1e" rx="2.2"/>
<rect x="1240.50" y="473.00" width="23.80" height="16.40" fill="#1b1a1e" rx="2.2"/>
<path d="M1148.30 479.80l3.30 3.30 3.30 -3.30" fill="none" stroke="#c4c4c8" stroke-width="1.0" stroke-linecap="round" stroke-linejoin="round"/>
<path d="M1223.10 479.60l2.80 3.00 2.80 -3.00" fill="none" stroke="#fff" stroke-width="1.5" stroke-linecap="round" stroke-linejoin="round"/>
<path d="M1252.70 479.60l2.80 3.00 2.80 -3.00" fill="none" stroke="#fff" stroke-width="1.5" stroke-linecap="round" stroke-linejoin="round"/>
<path d="M1089.10 545.75H1263.30M1089.10 510.30H1263.30M1099.70 510.30V581.20M1113.80 510.30V581.20M1127.90 510.30V581.20M1142.00 510.30V581.20M1156.10 510.30V581.20M1170.20 510.30V581.20M1184.30 510.30V581.20M1198.40 510.30V581.20M1212.50 510.30V581.20M1226.60 510.30V581.20M1240.70 510.30V581.20M1254.80 510.30V581.20" stroke="#5c5c60" stroke-width="0.65" stroke-dasharray="2.1 2.1" fill="none"/>
<rect x="1094.80" y="514.40" width="9.80" height="66.80" fill="#3a8942"/>
<rect x="1108.90" y="515.90" width="9.80" height="65.30" fill="#3a8942"/>
<rect x="1123.00" y="517.70" width="9.80" height="63.50" fill="#3a8942"/>
<rect x="1137.10" y="518.40" width="9.80" height="62.80" fill="#3a8942"/>
<rect x="1151.20" y="519.70" width="9.80" height="61.50" fill="#3a8942"/>
<rect x="1165.30" y="520.70" width="9.80" height="60.50" fill="#3a8942"/>
<rect x="1179.40" y="521.20" width="9.80" height="60.00" fill="#3a8942"/>
<rect x="1193.50" y="521.70" width="9.80" height="59.50" fill="#3a8942"/>
<rect x="1207.60" y="521.70" width="9.80" height="59.50" fill="#3a8942"/>
<rect x="1221.70" y="523.20" width="9.80" height="58.00" fill="#3a8942"/>
<rect x="1235.80" y="523.20" width="9.80" height="58.00" fill="#3a8942"/>
<path d="M1089.10 510.30V581.20H1263.30M1085.10 581.20H1089.10M1085.10 545.75H1089.10M1085.10 510.30H1089.10M1099.70 581.20v4.2M1113.80 581.20v4.2M1127.90 581.20v4.2M1142.00 581.20v4.2M1156.10 581.20v4.2M1170.20 581.20v4.2M1184.30 581.20v4.2M1198.40 581.20v4.2M1212.50 581.20v4.2M1226.60 581.20v4.2M1240.70 581.20v4.2M1254.80 581.20v4.2" stroke="#a9a9ad" stroke-width="0.9" fill="none"/>
<rect x="1269.10" y="468.90" width="30.90" height="23.90" fill="#e6e6e7"/>
<rect x="1272.90" y="473.80" width="36.70" height="15.10" fill="#fff" stroke="#d6d6d8" stroke-width="0.8" rx="2.4"/>
<rect x="40.00" y="607.80" width="1260.00" height="8.40" fill="#3b3b3f"/>
<path d="M40 611.2H1006.8a2.4 2.4 0 0 1 0 5H40z" fill="#1a1a1d"/>
<rect x="134.50" y="634.60" width="1157.50" height="7.40" fill="#08080c" rx="3"/>
<rect x="67.50" y="622.00" width="54.30" height="14.40" fill="#77777d"/>
<rect x="67.50" y="622.00" width="53.10" height="13.20" fill="#222228"/>
<rect x="138.30" y="622.40" width="33.90" height="13.20" fill="#1b1b22" rx="2"/>
<rect x="175.80" y="622.60" width="89.20" height="13.00" fill="#bac9ea" rx="1.5"/>
<rect x="277.40" y="622.60" width="97.80" height="13.00" fill="#bac9ea" rx="1.5"/>
<g fill="none" stroke="#b9b9c6" stroke-linecap="round" stroke-linejoin="round">
<rect x="729.2" y="621.2" width="12.2" height="15.6" rx="1" stroke-width="1.2"/>
<path d="M732 625.4h6.8M732 628.6h6.8M732 631.8h6.8M732 634.6h6.8" stroke-width="1.5" stroke-dasharray="1.6 1" stroke-linecap="butt"/>
<path d="M751.9 621.9V634.4H766" stroke="#fff" stroke-width="1.4"/>
<path d="M755.4 631.6v.4M757.8 630v2M760.6 625.2v6.8M765.7 622.4v9.6" stroke="#fff" stroke-width="1.4"/>
<path d="M763.2 626.6v5.4" stroke="#c9c9d2" stroke-width="1.4"/>
</g>
</svg>
<div class="t" style="left:10.00px;top:535.00px;width:20.00px;height:12.00px;line-height:12.00px;font-size:8.2px;color:#7b8098;text-align:center;">LU</div>
<div class="t tab on" style="left:41.80px;top:10.00px;width:44.00px;height:14.40px;line-height:14.40px;">Market</div>
<div class="t tab" style="left:85.50px;top:10.00px;width:61.30px;height:14.40px;line-height:14.40px;">page32123</div>
<div class="t tab" style="left:146.50px;top:10.00px;width:37.80px;height:14.40px;line-height:14.40px;">EODs</div>
<div class="t tab" style="left:183.70px;top:10.00px;width:56.60px;height:14.40px;line-height:14.40px;">Pos + P&amp;L</div>
<div class="t tab" style="left:240.00px;top:10.00px;width:62.80px;height:14.40px;line-height:14.40px;">Backsheets</div>
<div class="t tab" style="left:302.50px;top:10.00px;width:48.00px;height:14.40px;line-height:14.40px;">pro asia</div>
<div class="t tab" style="left:350.20px;top:10.00px;width:40.60px;height:14.40px;line-height:14.40px;">Fundy</div>
<div class="t tab" style="left:390.80px;top:10.00px;width:42.40px;height:14.40px;line-height:14.40px;">Mobile</div>
<div class="t tab" style="left:433.50px;top:10.00px;width:42.20px;height:14.40px;line-height:14.40px;">SF Bro</div>
<div class="t tab" style="left:475.10px;top:10.00px;width:60.60px;height:14.40px;line-height:14.40px;">Freight MN</div>
<div class="t tab" style="left:535.70px;top:10.00px;width:26.80px;height:14.40px;line-height:14.40px;">LH</div>
<div class="t tab" style="left:562.20px;top:10.00px;width:35.00px;height:14.40px;line-height:14.40px;">JS12</div>
<div class="t tab" style="left:596.90px;top:10.00px;width:50.50px;height:14.40px;line-height:14.40px;">AFCurve</div>
<div class="t tab" style="left:647.40px;top:10.00px;width:50.80px;height:14.40px;line-height:14.40px;">AFCrude</div>
<div class="t tab" style="left:698.20px;top:10.00px;width:43.60px;height:14.40px;line-height:14.40px;">Margin</div>
<div class="t tab" style="left:741.80px;top:10.00px;width:35.40px;height:14.40px;line-height:14.40px;">page</div>
<div class="t bi" style="left:368.20px;top:35.40px;width:36.00px;height:17.00px;line-height:17.00px;">Broadcas</div>
<div class="t bi" style="left:413.60px;top:35.40px;width:38.70px;height:17.00px;line-height:17.00px;">Broadcasi</div>
<div class="t bi" style="left:461.70px;top:35.40px;width:32.70px;height:17.00px;line-height:17.00px;">JMC: 1w</div>
<div class="t bi" style="left:608.20px;top:35.40px;width:41.70px;height:17.00px;line-height:17.00px;">JMC: 1w</div>
<div class="t bi" style="left:844.50px;top:35.40px;width:42.70px;height:17.00px;line-height:17.00px;">JMC: 1w</div>
<div class="t bi" style="left:973.40px;top:35.40px;width:59.50px;height:17.00px;line-height:17.00px;">JMC: 1w</div>
<div class="t bi" style="left:1042.30px;top:35.40px;width:59.30px;height:17.00px;line-height:17.00px;">JMC: 1w</div>
<div class="t bi" style="left:1111.00px;top:35.40px;width:73.30px;height:17.00px;line-height:17.00px;">Broadcast</div>
<div class="t bi" style="left:1249.60px;top:35.40px;width:46.20px;height:17.00px;line-height:17.00px;">Broadcast</div>
<div class="t p" style="left:45.80px;top:34.60px;width:44.20px;height:17.00px;line-height:17.00px;font-size:8.2px;font-weight:bold;-webkit-text-stroke:0;">CHG ALL</div>
<div class="t ga" style="left:133.50px;top:58.80px;width:468.70px;height:13.70px;line-height:13.70px;">OIL</div>
<div class="t ga" style="left:602.20px;top:58.80px;width:51.10px;height:13.70px;line-height:13.70px;">NGLs</div>
<div class="t ga" style="left:653.30px;top:58.80px;width:133.00px;height:13.70px;line-height:13.70px;">OIL</div>
<div class="t ga" style="left:786.30px;top:58.80px;width:104.30px;height:13.70px;line-height:13.70px;">NGLs</div>
<div class="t ga" style="left:890.60px;top:58.80px;width:409.40px;height:13.70px;line-height:13.70px;">OIL</div>
<div class="t gb" style="left:133.50px;top:71.90px;width:468.70px;height:13.70px;line-height:13.70px;">NORTH WEST EUROPE</div>
<div class="t gb" style="left:602.20px;top:71.90px;width:51.10px;height:13.70px;line-height:13.70px;">NORTH W...</div>
<div class="t gb" style="left:653.30px;top:71.90px;width:133.00px;height:13.70px;line-height:13.70px;">NORTH AMERICA</div>
<div class="t gb" style="left:786.30px;top:71.90px;width:104.30px;height:13.70px;line-height:13.70px;">NORTH WEST EUROPE</div>
<div class="t gb" style="left:890.60px;top:71.90px;width:145.70px;height:13.70px;line-height:13.70px;">MEDITERRANEAN</div>
<div class="t gb" style="left:1036.30px;top:71.90px;width:68.70px;height:13.70px;line-height:13.70px;">NORTH AMERI...</div>
<div class="t gb" style="left:1105.00px;top:71.90px;width:195.00px;height:13.70px;line-height:13.70px;">FAR EAST</div>
<div class="t gb" style="left:133.50px;top:86.40px;width:177.80px;height:13.50px;line-height:13.50px;">CRUDE</div>
<div class="t gb" style="left:311.30px;top:86.40px;width:96.30px;height:13.50px;line-height:13.50px;">GASOLINE</div>
<div class="t gb" style="left:407.60px;top:86.40px;width:90.20px;height:13.50px;line-height:13.50px;">NAPHTHA</div>
<div class="t gb" style="left:497.80px;top:86.40px;width:52.20px;height:13.50px;line-height:13.50px;">GASOLINE</div>
<div class="t gb" style="left:550.00px;top:86.40px;width:52.20px;height:13.50px;line-height:13.50px;">NAPHTHA</div>
<div class="t gb" style="left:602.20px;top:86.40px;width:51.10px;height:13.50px;line-height:13.50px;">PROPANE</div>
<div class="t gb" style="left:653.30px;top:86.40px;width:133.00px;height:13.50px;line-height:13.50px;">GASOLINE</div>
<div class="t gb" style="left:786.30px;top:86.40px;width:104.30px;height:13.50px;line-height:13.50px;">PROPANE</div>
<div class="t gb" style="left:890.60px;top:86.40px;width:145.70px;height:13.50px;line-height:13.50px;">GASOLINE</div>
<div class="t gb" style="left:1036.30px;top:86.40px;width:68.70px;height:13.50px;line-height:13.50px;">GASOLINE</div>
<div class="t gb" style="left:1105.00px;top:86.40px;width:195.00px;height:13.50px;line-height:13.50px;">NAPHTHA</div>
<div class="t cn" style="left:133.50px;top:99.50px;width:71.80px;height:13.20px;line-height:13.20px;">BRT TS</div>
<div class="t hs" style="left:133.50px;top:122.20px;width:71.80px;height:16.30px;line-height:16.30px;">ICE</div>
<div class="t hs" style="left:133.50px;top:138.00px;width:71.80px;height:16.10px;line-height:16.10px;">ICE</div>
<div class="t hs" style="left:133.50px;top:154.10px;width:71.80px;height:16.40px;line-height:16.40px;">VOLMPRIOR</div>
<div class="t hs" style="left:133.50px;top:171.00px;width:71.80px;height:16.40px;line-height:16.40px;">$/bbl</div>
<div class="t cn" style="left:205.30px;top:99.50px;width:58.10px;height:13.20px;line-height:13.20px;">BRT SW</div>
<div class="t hs" style="left:205.30px;top:122.20px;width:58.10px;height:16.30px;line-height:16.30px;">ICE</div>
<div class="t hs" style="left:205.30px;top:138.00px;width:58.10px;height:16.10px;line-height:16.10px;">ICE</div>
<div class="t hs" style="left:205.30px;top:154.10px;width:58.10px;height:16.40px;line-height:16.40px;">FV</div>
<div class="t hs" style="left:205.30px;top:171.00px;width:58.10px;height:16.40px;line-height:16.40px;">FV $/bbl</div>
<div class="t cn" style="left:263.40px;top:99.50px;width:47.90px;height:13.20px;line-height:13.20px;">BRT FT</div>
<div class="t hs" style="left:263.40px;top:122.20px;width:47.90px;height:16.30px;line-height:16.30px;">ICE</div>
<div class="t hs" style="left:263.40px;top:138.00px;width:47.90px;height:16.10px;line-height:16.10px;">ICE</div>
<div class="t hs" style="left:263.40px;top:154.10px;width:47.90px;height:16.40px;line-height:16.40px;">ASK</div>
<div class="t hs" style="left:263.40px;top:171.00px;width:47.90px;height:16.40px;line-height:16.40px;">Ask $/bbl</div>
<div class="t cn" style="left:311.30px;top:99.50px;width:50.90px;height:13.20px;line-height:13.20px;">EBOB FP</div>
<div class="t hs" style="left:311.30px;top:122.20px;width:50.90px;height:16.30px;line-height:16.30px;">SF</div>
<div class="t hs" style="left:311.30px;top:138.00px;width:50.90px;height:16.10px;line-height:16.10px;">Artis Works</div>
<div class="t hs" style="left:311.30px;top:154.10px;width:50.90px;height:16.40px;line-height:16.40px;">VALUE</div>
<div class="t hs" style="left:311.30px;top:171.00px;width:50.90px;height:16.40px;line-height:16.40px;">$/ton</div>
<div class="t cn" style="left:362.20px;top:99.50px;width:45.40px;height:13.20px;line-height:13.20px;">EBOB TS</div>
<div class="t hs" style="left:362.20px;top:122.20px;width:45.40px;height:16.30px;line-height:16.30px;">SF</div>
<div class="t hs" style="left:362.20px;top:138.00px;width:45.40px;height:16.10px;line-height:16.10px;">Artis Works</div>
<div class="t hs" style="left:362.20px;top:154.10px;width:45.40px;height:16.40px;line-height:16.40px;">VALUE</div>
<div class="t hs" style="left:362.20px;top:171.00px;width:45.40px;height:16.40px;line-height:16.40px;">$/ton</div>
<div class="t cn" style="left:407.60px;top:99.50px;width:48.10px;height:13.20px;line-height:13.20px;">NAP CK</div>
<div class="t hs" style="left:407.60px;top:122.20px;width:48.10px;height:16.30px;line-height:16.30px;">SF</div>
<div class="t hs" style="left:407.60px;top:138.00px;width:48.10px;height:16.10px;line-height:16.10px;">Artis Works</div>
<div class="t hs" style="left:407.60px;top:154.10px;width:48.10px;height:16.40px;line-height:16.40px;">VALUE</div>
<div class="t hs" style="left:407.60px;top:171.00px;width:48.10px;height:16.40px;line-height:16.40px;">$/bbl</div>
<div class="t cn" style="left:455.70px;top:99.50px;width:42.10px;height:13.20px;line-height:13.20px;">NAP TS</div>
<div class="t hs" style="left:455.70px;top:122.20px;width:42.10px;height:16.30px;line-height:16.30px;">SF</div>
<div class="t hs" style="left:455.70px;top:138.00px;width:42.10px;height:16.10px;line-height:16.10px;">Artis Works</div>
<div class="t hs" style="left:455.70px;top:154.10px;width:42.10px;height:16.40px;line-height:16.40px;">VALUE</div>
<div class="t hs" style="left:455.70px;top:171.00px;width:42.10px;height:16.40px;line-height:16.40px;">$/ton</div>
<div class="t cn" style="left:497.80px;top:99.50px;width:52.20px;height:13.20px;line-height:13.20px;">GAS NAP</div>
<div class="t hs" style="left:497.80px;top:122.20px;width:52.20px;height:16.30px;line-height:16.30px;">SF</div>
<div class="t hs" style="left:497.80px;top:138.00px;width:52.20px;height:16.10px;line-height:16.10px;">Artis Works</div>
<div class="t hs" style="left:497.80px;top:154.10px;width:52.20px;height:16.40px;line-height:16.40px;">VALUE</div>
<div class="t hs" style="left:497.80px;top:171.00px;width:52.20px;height:16.40px;line-height:16.40px;">$/ton</div>
<div class="t cn" style="left:550.00px;top:99.50px;width:52.20px;height:13.20px;line-height:13.20px;">NAP FP</div>
<div class="t hs" style="left:550.00px;top:122.20px;width:52.20px;height:16.30px;line-height:16.30px;">SF</div>
<div class="t hs" style="left:550.00px;top:138.00px;width:52.20px;height:16.10px;line-height:16.10px;">Artis Works</div>
<div class="t hs" style="left:550.00px;top:154.10px;width:52.20px;height:16.40px;line-height:16.40px;">VALUE</div>
<div class="t hs" style="left:550.00px;top:171.00px;width:52.20px;height:16.40px;line-height:16.40px;">$/ton</div>
<div class="t cn" style="left:602.20px;top:99.50px;width:51.10px;height:13.20px;line-height:13.20px;">PRO NAP</div>
<div class="t hs" style="left:602.20px;top:122.20px;width:51.10px;height:16.30px;line-height:16.30px;">SF</div>
<div class="t hs" style="left:602.20px;top:138.00px;width:51.10px;height:16.10px;line-height:16.10px;">Artis Works</div>
<div class="t hs" style="left:602.20px;top:154.10px;width:51.10px;height:16.40px;line-height:16.40px;">VALUE</div>
<div class="t hs" style="left:602.20px;top:171.00px;width:51.10px;height:16.40px;line-height:16.40px;">$/ton</div>
<div class="t cn" style="left:653.30px;top:99.50px;width:40.30px;height:13.20px;line-height:13.20px;">RB FT</div>
<div class="t hs" style="left:653.30px;top:122.20px;width:40.30px;height:16.30px;line-height:16.30px;">CME</div>
<div class="t hs" style="left:653.30px;top:138.00px;width:40.30px;height:16.10px;line-height:16.10px;">CME</div>
<div class="t hs" style="left:653.30px;top:154.10px;width:40.30px;height:16.40px;line-height:16.40px;">FV</div>
<div class="t hs" style="left:653.30px;top:171.00px;width:40.30px;height:16.40px;line-height:16.40px;">FV c/gal</div>
<div class="t cn" style="left:693.60px;top:99.50px;width:40.60px;height:13.20px;line-height:13.20px;">RB TS</div>
<div class="t hs" style="left:693.60px;top:122.20px;width:40.60px;height:16.30px;line-height:16.30px;">CME</div>
<div class="t hs" style="left:693.60px;top:138.00px;width:40.60px;height:16.10px;line-height:16.10px;">CME</div>
<div class="t hs" style="left:693.60px;top:154.10px;width:40.60px;height:16.40px;line-height:16.40px;">FV</div>
<div class="t hs" style="left:693.60px;top:171.00px;width:40.60px;height:16.40px;line-height:16.40px;">FV c/gal</div>
<div class="t cn" style="left:734.20px;top:99.50px;width:52.10px;height:13.20px;line-height:13.20px;">RBHO</div>
<div class="t hs" style="left:734.20px;top:122.20px;width:52.10px;height:16.30px;line-height:16.30px;">SF</div>
<div class="t hs" style="left:734.20px;top:138.00px;width:52.10px;height:16.10px;line-height:16.10px;">Artis Works</div>
<div class="t hs" style="left:734.20px;top:154.10px;width:52.10px;height:16.40px;line-height:16.40px;">VALUE</div>
<div class="t hs" style="left:734.20px;top:171.00px;width:52.10px;height:16.40px;line-height:16.40px;">c/gal</div>
<div class="t cn" style="left:786.30px;top:99.50px;width:52.20px;height:13.20px;line-height:13.20px;">PRO FP</div>
<div class="t hs" style="left:786.30px;top:122.20px;width:52.20px;height:16.30px;line-height:16.30px;">SF</div>
<div class="t hs" style="left:786.30px;top:138.00px;width:52.20px;height:16.10px;line-height:16.10px;">Artis Works</div>
<div class="t hs" style="left:786.30px;top:154.10px;width:52.20px;height:16.40px;line-height:16.40px;">VALUE</div>
<div class="t hs" style="left:786.30px;top:171.00px;width:52.20px;height:16.40px;line-height:16.40px;">$/ton</div>
<div class="t cn" style="left:838.50px;top:99.50px;width:52.10px;height:13.20px;line-height:13.20px;">PRO TS</div>
<div class="t hs" style="left:838.50px;top:122.20px;width:52.10px;height:16.30px;line-height:16.30px;">SF</div>
<div class="t hs" style="left:838.50px;top:138.00px;width:52.10px;height:16.10px;line-height:16.10px;">Artis Works</div>
<div class="t hs" style="left:838.50px;top:154.10px;width:52.10px;height:16.40px;line-height:16.40px;">VALUE</div>
<div class="t hs" style="left:838.50px;top:171.00px;width:52.10px;height:16.40px;line-height:16.40px;">$/ton</div>
<div class="t cn" style="left:890.60px;top:99.50px;width:76.80px;height:13.20px;line-height:13.20px;">FOB MED</div>
<div class="t hs" style="left:890.60px;top:122.20px;width:76.80px;height:16.30px;line-height:16.30px;">SF</div>
<div class="t hs" style="left:890.60px;top:138.00px;width:76.80px;height:16.10px;line-height:16.10px;">Artis Works</div>
<div class="t hs" style="left:890.60px;top:154.10px;width:76.80px;height:16.40px;line-height:16.40px;">VALUE</div>
<div class="t hs" style="left:890.60px;top:171.00px;width:76.80px;height:16.40px;line-height:16.40px;">$/ton</div>
<div class="t cn" style="left:967.40px;top:99.50px;width:68.90px;height:13.20px;line-height:13.20px;">MED NTH</div>
<div class="t hs" style="left:967.40px;top:122.20px;width:68.90px;height:16.30px;line-height:16.30px;">SF</div>
<div class="t hs" style="left:967.40px;top:138.00px;width:68.90px;height:16.10px;line-height:16.10px;">Artis Works</div>
<div class="t hs" style="left:967.40px;top:154.10px;width:68.90px;height:16.40px;line-height:16.40px;">VALUE</div>
<div class="t hs" style="left:967.40px;top:171.00px;width:68.90px;height:16.40px;line-height:16.40px;">$/ton</div>
<div class="t cn" style="left:1036.30px;top:99.50px;width:68.70px;height:13.20px;line-height:13.20px;">NY ARB</div>
<div class="t hs" style="left:1036.30px;top:122.20px;width:68.70px;height:16.30px;line-height:16.30px;">SF</div>
<div class="t hs" style="left:1036.30px;top:138.00px;width:68.70px;height:16.10px;line-height:16.10px;">Artis Works</div>
<div class="t hs" style="left:1036.30px;top:154.10px;width:68.70px;height:16.40px;line-height:16.40px;">VALUE</div>
<div class="t hs" style="left:1036.30px;top:171.00px;width:68.70px;height:16.40px;line-height:16.40px;">c/gal</div>
<div class="t cn" style="left:1105.00px;top:99.50px;width:82.70px;height:13.20px;line-height:13.20px;">NAP EW</div>
<div class="t hs" style="left:1105.00px;top:122.20px;width:82.70px;height:16.30px;line-height:16.30px;">SF</div>
<div class="t hs" style="left:1105.00px;top:138.00px;width:82.70px;height:16.10px;line-height:16.10px;">Artis Works</div>
<div class="t hs" style="left:1105.00px;top:154.10px;width:82.70px;height:16.40px;line-height:16.40px;">VALUE</div>
<div class="t hs" style="left:1105.00px;top:171.00px;width:82.70px;height:16.40px;line-height:16.40px;">$/ton</div>
<div class="t cn" style="left:1187.70px;top:99.50px;width:55.90px;height:13.20px;line-height:13.20px;">MOPJ FP</div>
<div class="t hs" style="left:1187.70px;top:122.20px;width:55.90px;height:16.30px;line-height:16.30px;">SF</div>
<div class="t hs" style="left:1187.70px;top:138.00px;width:55.90px;height:16.10px;line-height:16.10px;">Artis Works</div>
<div class="t hs" style="left:1187.70px;top:154.10px;width:55.90px;height:16.40px;line-height:16.40px;">VALUE</div>
<div class="t hs" style="left:1187.70px;top:171.00px;width:55.90px;height:16.40px;line-height:16.40px;">$/ton</div>
<div class="t cn" style="left:1243.60px;top:99.50px;width:56.40px;height:13.20px;line-height:13.20px;">MOPJ TS</div>
<div class="t hs" style="left:1243.60px;top:122.20px;width:56.40px;height:16.30px;line-height:16.30px;">SF</div>
<div class="t hs" style="left:1243.60px;top:138.00px;width:56.40px;height:16.10px;line-height:16.10px;">Artis Works</div>
<div class="t hs" style="left:1243.60px;top:154.10px;width:56.40px;height:16.40px;line-height:16.40px;">VALUE</div>
<div class="t hs" style="left:1243.60px;top:171.00px;width:56.40px;height:16.40px;line-height:16.40px;">$/ton</div>
<div class="t p" style="left:48.30px;top:189.10px;width:46.70px;height:18.33px;line-height:18.33px;">OCT22</div>
<div class="t p" style="left:95.20px;top:189.10px;width:36.80px;height:18.33px;line-height:18.33px;">V22</div>
<div class="t d" style="left:205.30px;top:189.10px;width:58.10px;height:18.33px;line-height:18.33px;">91.64</div>
<div class="t d" style="left:311.30px;top:189.10px;width:50.90px;height:18.33px;line-height:18.33px;">801.70</div>
<div class="t d dy" style="left:362.20px;top:189.10px;width:45.40px;height:18.33px;line-height:18.33px;">2</div>
<div class="t d" style="left:407.60px;top:189.10px;width:48.10px;height:18.33px;line-height:18.33px;">-5.45</div>
<div class="t d" style="left:455.70px;top:189.10px;width:42.10px;height:18.33px;line-height:18.33px;">-2.50</div>
<div class="t d" style="left:497.80px;top:189.10px;width:52.20px;height:18.33px;line-height:18.33px;">34.63</div>
<div class="t d" style="left:550.00px;top:189.10px;width:52.20px;height:18.33px;line-height:18.33px;">767.07</div>
<div class="t d" style="left:602.20px;top:189.10px;width:51.10px;height:18.33px;line-height:18.33px;">-28.00</div>
<div class="t d" style="left:786.30px;top:189.10px;width:52.20px;height:18.33px;line-height:18.33px;">739.07</div>
<div class="t d" style="left:838.50px;top:189.10px;width:52.10px;height:18.33px;line-height:18.33px;">-4.00</div>
<div class="t d" style="left:890.60px;top:189.10px;width:76.80px;height:18.33px;line-height:18.33px;">810.70</div>
<div class="t d" style="left:967.40px;top:189.10px;width:68.90px;height:18.33px;line-height:18.33px;">9.00</div>
<div class="t d" style="left:1036.30px;top:189.10px;width:68.70px;height:18.33px;line-height:18.33px;">36.10</div>
<div class="t d" style="left:1105.00px;top:189.10px;width:82.70px;height:18.33px;line-height:18.33px;">23.0000</div>
<div class="t d" style="left:1187.70px;top:189.10px;width:55.90px;height:18.33px;line-height:18.33px;">790.07</div>
<div class="t d dy" style="left:1243.60px;top:189.10px;width:56.40px;height:18.33px;line-height:18.33px;">2.25</div>
<div class="t p" style="left:48.30px;top:207.43px;width:46.70px;height:18.33px;line-height:18.33px;">NOV22</div>
<div class="t p" style="left:95.20px;top:207.43px;width:36.80px;height:18.33px;line-height:18.33px;">X22</div>
<div class="t d" style="left:205.30px;top:207.43px;width:58.10px;height:18.33px;line-height:18.33px;">89.61</div>
<div class="t d" style="left:311.30px;top:207.43px;width:50.90px;height:18.33px;line-height:18.33px;">799.70</div>
<div class="t d dy" style="left:362.20px;top:207.43px;width:45.40px;height:18.33px;line-height:18.33px;">2</div>
<div class="t d dy" style="left:407.60px;top:207.43px;width:48.10px;height:18.33px;line-height:18.33px;">-3.14</div>
<div class="t d" style="left:455.70px;top:207.43px;width:42.10px;height:18.33px;line-height:18.33px;">0.50</div>
<div class="t d" style="left:497.80px;top:207.43px;width:52.20px;height:18.33px;line-height:18.33px;">30.13</div>
<div class="t d" style="left:550.00px;top:207.43px;width:52.20px;height:18.33px;line-height:18.33px;">769.57</div>
<div class="t d" style="left:602.20px;top:207.43px;width:51.10px;height:18.33px;line-height:18.33px;">-26.50</div>
<div class="t dl" style="left:653.30px;top:207.43px;width:40.30px;height:18.33px;line-height:18.33px;">265....</div>
<div class="t d" style="left:693.60px;top:207.43px;width:40.60px;height:18.33px;line-height:18.33px;">16.20</div>
<div class="t d" style="left:734.20px;top:207.43px;width:52.10px;height:18.33px;line-height:18.33px;">-84.89</div>
<div class="t d" style="left:786.30px;top:207.43px;width:52.20px;height:18.33px;line-height:18.33px;">743.07</div>
<div class="t d" style="left:838.50px;top:207.43px;width:52.10px;height:18.33px;line-height:18.33px;">0.50</div>
<div class="t d" style="left:890.60px;top:207.43px;width:76.80px;height:18.33px;line-height:18.33px;">809.20</div>
<div class="t d" style="left:967.40px;top:207.43px;width:68.90px;height:18.33px;line-height:18.33px;">9.50</div>
<div class="t d" style="left:1036.30px;top:207.43px;width:68.70px;height:18.33px;line-height:18.33px;">20.47</div>
<div class="t d dy" style="left:1105.00px;top:207.43px;width:82.70px;height:18.33px;line-height:18.33px;">18.2500</div>
<div class="t d" style="left:1187.70px;top:207.43px;width:55.90px;height:18.33px;line-height:18.33px;">787.82</div>
<div class="t d dy" style="left:1243.60px;top:207.43px;width:56.40px;height:18.33px;line-height:18.33px;">2.25</div>
<div class="t p" style="left:48.30px;top:225.76px;width:46.70px;height:18.33px;line-height:18.33px;">DEC22</div>
<div class="t p" style="left:95.20px;top:225.76px;width:36.80px;height:18.33px;line-height:18.33px;">Z22</div>
<div class="t d" style="left:133.50px;top:225.76px;width:71.80px;height:18.33px;line-height:18.33px;">82051.00</div>
<div class="t d" style="left:205.30px;top:225.76px;width:58.10px;height:18.33px;line-height:18.33px;">87.70</div>
<div class="t d" style="left:263.40px;top:225.76px;width:47.90px;height:18.33px;line-height:18.33px;">91.75</div>
<div class="t d" style="left:311.30px;top:225.76px;width:50.90px;height:18.33px;line-height:18.33px;">797.70</div>
<div class="t d dy" style="left:362.20px;top:225.76px;width:45.40px;height:18.33px;line-height:18.33px;">2</div>
<div class="t d" style="left:407.60px;top:225.76px;width:48.10px;height:18.33px;line-height:18.33px;">-1.29</div>
<div class="t d" style="left:455.70px;top:225.76px;width:42.10px;height:18.33px;line-height:18.33px;">1.50</div>
<div class="t d" style="left:497.80px;top:225.76px;width:52.20px;height:18.33px;line-height:18.33px;">28.63</div>
<div class="t d" style="left:550.00px;top:225.76px;width:52.20px;height:18.33px;line-height:18.33px;">769.07</div>
<div class="t d" style="left:602.20px;top:225.76px;width:51.10px;height:18.33px;line-height:18.33px;">-26.50</div>
<div class="t dl" style="left:653.30px;top:225.76px;width:40.30px;height:18.33px;line-height:18.33px;">249....</div>
<div class="t d" style="left:693.60px;top:225.76px;width:40.60px;height:18.33px;line-height:18.33px;">8.66</div>
<div class="t d" style="left:734.20px;top:225.76px;width:52.10px;height:18.33px;line-height:18.33px;">-87.12</div>
<div class="t d" style="left:786.30px;top:225.76px;width:52.20px;height:18.33px;line-height:18.33px;">742.57</div>
<div class="t d" style="left:838.50px;top:225.76px;width:52.10px;height:18.33px;line-height:18.33px;">7.00</div>
<div class="t d" style="left:890.60px;top:225.76px;width:76.80px;height:18.33px;line-height:18.33px;">807.45</div>
<div class="t d" style="left:967.40px;top:225.76px;width:68.90px;height:18.33px;line-height:18.33px;">9.75</div>
<div class="t d" style="left:1036.30px;top:225.76px;width:68.70px;height:18.33px;line-height:18.33px;">12.38</div>
<div class="t d" style="left:1105.00px;top:225.76px;width:82.70px;height:18.33px;line-height:18.33px;">16.5000</div>
<div class="t d" style="left:1187.70px;top:225.76px;width:55.90px;height:18.33px;line-height:18.33px;">785.57</div>
<div class="t d dy" style="left:1243.60px;top:225.76px;width:56.40px;height:18.33px;line-height:18.33px;">2.75</div>
<div class="t p" style="left:48.30px;top:244.09px;width:46.70px;height:18.33px;line-height:18.33px;">JAN23</div>
<div class="t p" style="left:95.20px;top:244.09px;width:36.80px;height:18.33px;line-height:18.33px;">F23</div>
<div class="t d" style="left:133.50px;top:244.09px;width:71.80px;height:18.33px;line-height:18.33px;">52985.00</div>
<div class="t d" style="left:205.30px;top:244.09px;width:58.10px;height:18.33px;line-height:18.33px;">86.25</div>
<div class="t d" style="left:263.40px;top:244.09px;width:47.90px;height:18.33px;line-height:18.33px;">89.71</div>
<div class="t d" style="left:311.30px;top:244.09px;width:50.90px;height:18.33px;line-height:18.33px;">795.70</div>
<div class="t d dy" style="left:362.20px;top:244.09px;width:45.40px;height:18.33px;line-height:18.33px;">2</div>
<div class="t d" style="left:407.60px;top:244.09px;width:48.10px;height:18.33px;line-height:18.33px;">-0.01</div>
<div class="t d" style="left:455.70px;top:244.09px;width:42.10px;height:18.33px;line-height:18.33px;">3.25</div>
<div class="t d" style="left:497.80px;top:244.09px;width:52.20px;height:18.33px;line-height:18.33px;">28.13</div>
<div class="t d" style="left:550.00px;top:244.09px;width:52.20px;height:18.33px;line-height:18.33px;">767.57</div>
<div class="t d" style="left:602.20px;top:244.09px;width:51.10px;height:18.33px;line-height:18.33px;">-32.00</div>
<div class="t dl" style="left:653.30px;top:244.09px;width:40.30px;height:18.33px;line-height:18.33px;">240....</div>
<div class="t d" style="left:693.60px;top:244.09px;width:40.60px;height:18.33px;line-height:18.33px;">3.42</div>
<div class="t d" style="left:734.20px;top:244.09px;width:52.10px;height:18.33px;line-height:18.33px;">-87.79</div>
<div class="t d" style="left:786.30px;top:244.09px;width:52.20px;height:18.33px;line-height:18.33px;">735.57</div>
<div class="t d" style="left:838.50px;top:244.09px;width:52.10px;height:18.33px;line-height:18.33px;">11.50</div>
<div class="t d" style="left:890.60px;top:244.09px;width:76.80px;height:18.33px;line-height:18.33px;">805.70</div>
<div class="t d" style="left:967.40px;top:244.09px;width:68.90px;height:18.33px;line-height:18.33px;">10.00</div>
<div class="t d" style="left:1036.30px;top:244.09px;width:68.70px;height:18.33px;line-height:18.33px;">9.54</div>
<div class="t d" style="left:1105.00px;top:244.09px;width:82.70px;height:18.33px;line-height:18.33px;">15.2500</div>
<div class="t d" style="left:1187.70px;top:244.09px;width:55.90px;height:18.33px;line-height:18.33px;">782.82</div>
<div class="t d dy" style="left:1243.60px;top:244.09px;width:56.40px;height:18.33px;line-height:18.33px;">4.00</div>
<div class="t p" style="left:48.30px;top:262.42px;width:46.70px;height:18.33px;line-height:18.33px;">FEB23</div>
<div class="t p" style="left:95.20px;top:262.42px;width:36.80px;height:18.33px;line-height:18.33px;">G23</div>
<div class="t d" style="left:133.50px;top:262.42px;width:71.80px;height:18.33px;line-height:18.33px;">26975.00</div>
<div class="t d" style="left:205.30px;top:262.42px;width:58.10px;height:18.33px;line-height:18.33px;">84.95</div>
<div class="t d" style="left:263.40px;top:262.42px;width:47.90px;height:18.33px;line-height:18.33px;">87.86</div>
<div class="t d" style="left:311.30px;top:262.42px;width:50.90px;height:18.33px;line-height:18.33px;">793.70</div>
<div class="t d dy" style="left:362.20px;top:262.42px;width:45.40px;height:18.33px;line-height:18.33px;">2</div>
<div class="t d" style="left:407.60px;top:262.42px;width:48.10px;height:18.33px;line-height:18.33px;">0.93</div>
<div class="t d" style="left:455.70px;top:262.42px;width:42.10px;height:18.33px;line-height:18.33px;">5.25</div>
<div class="t d" style="left:497.80px;top:262.42px;width:52.20px;height:18.33px;line-height:18.33px;">29.38</div>
<div class="t d" style="left:550.00px;top:262.42px;width:52.20px;height:18.33px;line-height:18.33px;">764.32</div>
<div class="t d" style="left:602.20px;top:262.42px;width:51.10px;height:18.33px;line-height:18.33px;">-40.25</div>
<div class="t dl" style="left:653.30px;top:262.42px;width:40.30px;height:18.33px;line-height:18.33px;">236....</div>
<div class="t d" style="left:693.60px;top:262.42px;width:40.60px;height:18.33px;line-height:18.33px;">-0.16</div>
<div class="t d" style="left:734.20px;top:262.42px;width:52.10px;height:18.33px;line-height:18.33px;">-83.96</div>
<div class="t d" style="left:786.30px;top:262.42px;width:52.20px;height:18.33px;line-height:18.33px;">724.07</div>
<div class="t d" style="left:838.50px;top:262.42px;width:52.10px;height:18.33px;line-height:18.33px;">25.00</div>
<div class="t d" style="left:890.60px;top:262.42px;width:76.80px;height:18.33px;line-height:18.33px;">804.20</div>
<div class="t d" style="left:967.40px;top:262.42px;width:68.90px;height:18.33px;line-height:18.33px;">10.50</div>
<div class="t d" style="left:1036.30px;top:262.42px;width:68.70px;height:18.33px;line-height:18.33px;">10.26</div>
<div class="t d" style="left:1105.00px;top:262.42px;width:82.70px;height:18.33px;line-height:18.33px;">14.5000</div>
<div class="t d" style="left:1187.70px;top:262.42px;width:55.90px;height:18.33px;line-height:18.33px;">778.82</div>
<div class="t d dy" style="left:1243.60px;top:262.42px;width:56.40px;height:18.33px;line-height:18.33px;">4.25</div>
<div class="t p" style="left:48.30px;top:280.75px;width:46.70px;height:18.33px;line-height:18.33px;">MAR23</div>
<div class="t p" style="left:95.20px;top:280.75px;width:36.80px;height:18.33px;line-height:18.33px;">H23</div>
<div class="t d" style="left:133.50px;top:280.75px;width:71.80px;height:18.33px;line-height:18.33px;">14223.00</div>
<div class="t d" style="left:205.30px;top:280.75px;width:58.10px;height:18.33px;line-height:18.33px;">83.87</div>
<div class="t d" style="left:263.40px;top:280.75px;width:47.90px;height:18.33px;line-height:18.33px;">86.34</div>
<div class="t d" style="left:311.30px;top:280.75px;width:50.90px;height:18.33px;line-height:18.33px;">791.70</div>
<div class="t d dy" style="left:362.20px;top:280.75px;width:45.40px;height:18.33px;line-height:18.33px;">2</div>
<div class="t d" style="left:407.60px;top:280.75px;width:48.10px;height:18.33px;line-height:18.33px;">1.42</div>
<div class="t d" style="left:455.70px;top:280.75px;width:42.10px;height:18.33px;line-height:18.33px;">5.50</div>
<div class="t d" style="left:497.80px;top:280.75px;width:52.20px;height:18.33px;line-height:18.33px;">32.63</div>
<div class="t d" style="left:550.00px;top:280.75px;width:52.20px;height:18.33px;line-height:18.33px;">759.07</div>
<div class="t d" style="left:602.20px;top:280.75px;width:51.10px;height:18.33px;line-height:18.33px;">-60.00</div>
<div class="t dl" style="left:653.30px;top:280.75px;width:40.30px;height:18.33px;line-height:18.33px;">237....</div>
<div class="t d" style="left:693.60px;top:280.75px;width:40.60px;height:18.33px;line-height:18.33px;">-16.74</div>
<div class="t d" style="left:734.20px;top:280.75px;width:52.10px;height:18.33px;line-height:18.33px;">-75.74</div>
<div class="t d" style="left:786.30px;top:280.75px;width:52.20px;height:18.33px;line-height:18.33px;">699.07</div>
<div class="t d" style="left:838.50px;top:280.75px;width:52.10px;height:18.33px;line-height:18.33px;">24.00</div>
<div class="t d" style="left:890.60px;top:280.75px;width:76.80px;height:18.33px;line-height:18.33px;">802.70</div>
<div class="t d" style="left:967.40px;top:280.75px;width:68.90px;height:18.33px;line-height:18.33px;">11.00</div>
<div class="t d" style="left:1036.30px;top:280.75px;width:68.70px;height:18.33px;line-height:18.33px;">27.58</div>
<div class="t d" style="left:1105.00px;top:280.75px;width:82.70px;height:18.33px;line-height:18.33px;">15.5000</div>
<div class="t d" style="left:1187.70px;top:280.75px;width:55.90px;height:18.33px;line-height:18.33px;">774.57</div>
<div class="t d dy" style="left:1243.60px;top:280.75px;width:56.40px;height:18.33px;line-height:18.33px;">4.50</div>
<div class="t p" style="left:48.30px;top:299.08px;width:46.70px;height:18.33px;line-height:18.33px;">APR23</div>
<div class="t p" style="left:95.20px;top:299.08px;width:36.80px;height:18.33px;line-height:18.33px;">J23</div>
<div class="t d" style="left:133.50px;top:299.08px;width:71.80px;height:18.33px;line-height:18.33px;">8293.00</div>
<div class="t d" style="left:205.30px;top:299.08px;width:58.10px;height:18.33px;line-height:18.33px;">82.94</div>
<div class="t d" style="left:263.40px;top:299.08px;width:47.90px;height:18.33px;line-height:18.33px;">85.03</div>
<div class="t d" style="left:311.30px;top:299.08px;width:50.90px;height:18.33px;line-height:18.33px;">789.70</div>
<div class="t d dy" style="left:362.20px;top:299.08px;width:45.40px;height:18.33px;line-height:18.33px;">2</div>
<div class="t d" style="left:407.60px;top:299.08px;width:48.10px;height:18.33px;line-height:18.33px;">1.73</div>
<div class="t d" style="left:455.70px;top:299.08px;width:42.10px;height:18.33px;line-height:18.33px;">5.50</div>
<div class="t d" style="left:497.80px;top:299.08px;width:52.20px;height:18.33px;line-height:18.33px;">36.13</div>
<div class="t d" style="left:550.00px;top:299.08px;width:52.20px;height:18.33px;line-height:18.33px;">753.57</div>
<div class="t d" style="left:602.20px;top:299.08px;width:51.10px;height:18.33px;line-height:18.33px;">-78.50</div>
<div class="t dl" style="left:653.30px;top:299.08px;width:40.30px;height:18.33px;line-height:18.33px;">253....</div>
<div class="t d" style="left:693.60px;top:299.08px;width:40.60px;height:18.33px;line-height:18.33px;">0.69</div>
<div class="t d" style="left:734.20px;top:299.08px;width:52.10px;height:18.33px;line-height:18.33px;">-49.96</div>
<div class="t d" style="left:786.30px;top:299.08px;width:52.20px;height:18.33px;line-height:18.33px;">675.07</div>
<div class="t d" style="left:838.50px;top:299.08px;width:52.10px;height:18.33px;line-height:18.33px;">14.00</div>
<div class="t d" style="left:890.60px;top:299.08px;width:76.80px;height:18.33px;line-height:18.33px;">779.70</div>
<div class="t d" style="left:967.40px;top:299.08px;width:68.90px;height:18.33px;line-height:18.33px;">-10.00</div>
<div class="t d" style="left:1036.30px;top:299.08px;width:68.70px;height:18.33px;line-height:18.33px;">27.45</div>
<div class="t d" style="left:1105.00px;top:299.08px;width:82.70px;height:18.33px;line-height:18.33px;">16.5000</div>
<div class="t d" style="left:1187.70px;top:299.08px;width:55.90px;height:18.33px;line-height:18.33px;">770.07</div>
<div class="t d dy" style="left:1243.60px;top:299.08px;width:56.40px;height:18.33px;line-height:18.33px;">0.50</div>
<div class="t p" style="left:48.30px;top:317.41px;width:46.70px;height:18.33px;line-height:18.33px;">MAY23</div>
<div class="t p" style="left:95.20px;top:317.41px;width:36.80px;height:18.33px;line-height:18.33px;">K23</div>
<div class="t d" style="left:133.50px;top:317.41px;width:71.80px;height:18.33px;line-height:18.33px;">6100.00</div>
<div class="t d" style="left:205.30px;top:317.41px;width:58.10px;height:18.33px;line-height:18.33px;">82.18</div>
<div class="t d" style="left:263.40px;top:317.41px;width:47.90px;height:18.33px;line-height:18.33px;">83.94</div>
<div class="t d" style="left:311.30px;top:317.41px;width:50.90px;height:18.33px;line-height:18.33px;">787.70</div>
<div class="t d dy" style="left:362.20px;top:317.41px;width:45.40px;height:18.33px;line-height:18.33px;">2</div>
<div class="t d" style="left:407.60px;top:317.41px;width:48.10px;height:18.33px;line-height:18.33px;">1.87</div>
<div class="t d" style="left:455.70px;top:317.41px;width:42.10px;height:18.33px;line-height:18.33px;">5.00</div>
<div class="t d" style="left:497.80px;top:317.41px;width:52.20px;height:18.33px;line-height:18.33px;">39.63</div>
<div class="t d" style="left:550.00px;top:317.41px;width:52.20px;height:18.33px;line-height:18.33px;">748.07</div>
<div class="t d" style="left:602.20px;top:317.41px;width:51.10px;height:18.33px;line-height:18.33px;">-87.00</div>
<div class="t dl" style="left:653.30px;top:317.41px;width:40.30px;height:18.33px;line-height:18.33px;">253....</div>
<div class="t d" style="left:693.60px;top:317.41px;width:40.60px;height:18.33px;line-height:18.33px;">2.12</div>
<div class="t d" style="left:734.20px;top:317.41px;width:52.10px;height:18.33px;line-height:18.33px;">-43.54</div>
<div class="t d" style="left:786.30px;top:317.41px;width:52.20px;height:18.33px;line-height:18.33px;">661.07</div>
<div class="t d" style="left:838.50px;top:317.41px;width:52.10px;height:18.33px;line-height:18.33px;">6.50</div>
<div class="t d" style="left:890.60px;top:317.41px;width:76.80px;height:18.33px;line-height:18.33px;">777.70</div>
<div class="t d" style="left:967.40px;top:317.41px;width:68.90px;height:18.33px;line-height:18.33px;">-10.00</div>
<div class="t d" style="left:1036.30px;top:317.41px;width:68.70px;height:18.33px;line-height:18.33px;">25.90</div>
<div class="t d" style="left:1105.00px;top:317.41px;width:82.70px;height:18.33px;line-height:18.33px;">21.5000</div>
<div class="t d" style="left:1187.70px;top:317.41px;width:55.90px;height:18.33px;line-height:18.33px;">769.57</div>
<div class="t d dy" style="left:1243.60px;top:317.41px;width:56.40px;height:18.33px;line-height:18.33px;">0.50</div>
<div class="t p" style="left:48.30px;top:335.74px;width:46.70px;height:18.33px;line-height:18.33px;">JUN23</div>
<div class="t p" style="left:95.20px;top:335.74px;width:36.80px;height:18.33px;line-height:18.33px;">M23</div>
<div class="t d" style="left:133.50px;top:335.74px;width:71.80px;height:18.33px;line-height:18.33px;">5495.00</div>
<div class="t d" style="left:205.30px;top:335.74px;width:58.10px;height:18.33px;line-height:18.33px;">81.46</div>
<div class="t d" style="left:263.40px;top:335.74px;width:47.90px;height:18.33px;line-height:18.33px;">83.00</div>
<div class="t d" style="left:311.30px;top:335.74px;width:50.90px;height:18.33px;line-height:18.33px;">785.70</div>
<div class="t d dy" style="left:362.20px;top:335.74px;width:45.40px;height:18.33px;line-height:18.33px;">13</div>
<div class="t d" style="left:407.60px;top:335.74px;width:48.10px;height:18.33px;line-height:18.33px;">2.03</div>
<div class="t d" style="left:455.70px;top:335.74px;width:42.10px;height:18.33px;line-height:18.33px;">4.50</div>
<div class="t d" style="left:497.80px;top:335.74px;width:52.20px;height:18.33px;line-height:18.33px;">42.63</div>
<div class="t d" style="left:550.00px;top:335.74px;width:52.20px;height:18.33px;line-height:18.33px;">743.07</div>
<div class="t d" style="left:602.20px;top:335.74px;width:51.10px;height:18.33px;line-height:18.33px;">-88.50</div>
<div class="t dl" style="left:653.30px;top:335.74px;width:40.30px;height:18.33px;line-height:18.33px;">251....</div>
<div class="t d" style="left:693.60px;top:335.74px;width:40.60px;height:18.33px;line-height:18.33px;">3.56</div>
<div class="t d" style="left:734.20px;top:335.74px;width:52.10px;height:18.33px;line-height:18.33px;">-40.27</div>
<div class="t d" style="left:786.30px;top:335.74px;width:52.20px;height:18.33px;line-height:18.33px;">654.57</div>
<div class="t d" style="left:838.50px;top:335.74px;width:52.10px;height:18.33px;line-height:18.33px;">1.00</div>
<div class="t d" style="left:890.60px;top:335.74px;width:76.80px;height:18.33px;line-height:18.33px;">775.70</div>
<div class="t d" style="left:967.40px;top:335.74px;width:68.90px;height:18.33px;line-height:18.33px;">-10.00</div>
<div class="t d" style="left:1036.30px;top:335.74px;width:68.70px;height:18.33px;line-height:18.33px;">22.92</div>
<div class="t d" style="left:1105.00px;top:335.74px;width:82.70px;height:18.33px;line-height:18.33px;">26.0000</div>
<div class="t d" style="left:1187.70px;top:335.74px;width:55.90px;height:18.33px;line-height:18.33px;">769.07</div>
<div class="t d dy" style="left:1243.60px;top:335.74px;width:56.40px;height:18.33px;line-height:18.33px;">0.50</div>
<div class="t p" style="left:48.30px;top:354.07px;width:46.70px;height:18.33px;line-height:18.33px;">JUL23</div>
<div class="t p" style="left:95.20px;top:354.07px;width:36.80px;height:18.33px;line-height:18.33px;">N23</div>
<div class="t d" style="left:133.50px;top:354.07px;width:71.80px;height:18.33px;line-height:18.33px;">2156.00</div>
<div class="t d" style="left:205.30px;top:354.07px;width:58.10px;height:18.33px;line-height:18.33px;">80.77</div>
<div class="t d" style="left:263.40px;top:354.07px;width:47.90px;height:18.33px;line-height:18.33px;">82.24</div>
<div class="t d" style="left:311.30px;top:354.07px;width:50.90px;height:18.33px;line-height:18.33px;">772.70</div>
<div class="t d dy" style="left:362.20px;top:354.07px;width:45.40px;height:18.33px;line-height:18.33px;">14</div>
<div class="t d" style="left:407.60px;top:354.07px;width:48.10px;height:18.33px;line-height:18.33px;">2.21</div>
<div class="t d" style="left:455.70px;top:354.07px;width:42.10px;height:18.33px;line-height:18.33px;">4.50</div>
<div class="t d" style="left:497.80px;top:354.07px;width:52.20px;height:18.33px;line-height:18.33px;">34.13</div>
<div class="t d" style="left:550.00px;top:354.07px;width:52.20px;height:18.33px;line-height:18.33px;">738.57</div>
<div class="t d" style="left:602.20px;top:354.07px;width:51.10px;height:18.33px;line-height:18.33px;">-85.00</div>
<div class="t dl" style="left:653.30px;top:354.07px;width:40.30px;height:18.33px;line-height:18.33px;">247....</div>
<div class="t d" style="left:693.60px;top:354.07px;width:40.60px;height:18.33px;line-height:18.33px;">4.12</div>
<div class="t d" style="left:734.20px;top:354.07px;width:52.10px;height:18.33px;line-height:18.33px;">-41.02</div>
<div class="t d" style="left:786.30px;top:354.07px;width:52.20px;height:18.33px;line-height:18.33px;">653.57</div>
<div class="t d" style="left:838.50px;top:354.07px;width:52.10px;height:18.33px;line-height:18.33px;">-1.50</div>
<div class="t d" style="left:890.60px;top:354.07px;width:76.80px;height:18.33px;line-height:18.33px;">760.70</div>
<div class="t d" style="left:967.40px;top:354.07px;width:68.90px;height:18.33px;line-height:18.33px;">-12.00</div>
<div class="t d" style="left:1036.30px;top:354.07px;width:68.70px;height:18.33px;line-height:18.33px;">22.51</div>
<div class="t d" style="left:1105.00px;top:354.07px;width:82.70px;height:18.33px;line-height:18.33px;">30.0000</div>
<div class="t d" style="left:1187.70px;top:354.07px;width:55.90px;height:18.33px;line-height:18.33px;">768.57</div>
<div class="t d dy" style="left:1243.60px;top:354.07px;width:56.40px;height:18.33px;line-height:18.33px;">0.50</div>
<div class="t p" style="left:48.30px;top:372.40px;width:46.70px;height:18.33px;line-height:18.33px;">AUG23</div>
<div class="t p" style="left:95.20px;top:372.40px;width:36.80px;height:18.33px;line-height:18.33px;">Q23</div>
<div class="t d" style="left:133.50px;top:372.40px;width:71.80px;height:18.33px;line-height:18.33px;">1352.00</div>
<div class="t d" style="left:205.30px;top:372.40px;width:58.10px;height:18.33px;line-height:18.33px;">80.16</div>
<div class="t d" style="left:263.40px;top:372.40px;width:47.90px;height:18.33px;line-height:18.33px;">81.51</div>
<div class="t d" style="left:311.30px;top:372.40px;width:50.90px;height:18.33px;line-height:18.33px;">758.70</div>
<div class="t d dy" style="left:362.20px;top:372.40px;width:45.40px;height:18.33px;line-height:18.33px;">15</div>
<div class="t d" style="left:407.60px;top:372.40px;width:48.10px;height:18.33px;line-height:18.33px;">2.32</div>
<div class="t d" style="left:455.70px;top:372.40px;width:42.10px;height:18.33px;line-height:18.33px;">4.25</div>
<div class="t d" style="left:497.80px;top:372.40px;width:52.20px;height:18.33px;line-height:18.33px;">24.63</div>
<div class="t d" style="left:550.00px;top:372.40px;width:52.20px;height:18.33px;line-height:18.33px;">734.07</div>
<div class="t d" style="left:602.20px;top:372.40px;width:51.10px;height:18.33px;line-height:18.33px;">-79.00</div>
<div class="t dl" style="left:653.30px;top:372.40px;width:40.30px;height:18.33px;line-height:18.33px;">243....</div>
<div class="t d" style="left:693.60px;top:372.40px;width:40.60px;height:18.33px;line-height:18.33px;">4.60</div>
<div class="t d" style="left:734.20px;top:372.40px;width:52.10px;height:18.33px;line-height:18.33px;">-43.06</div>
<div class="t d" style="left:786.30px;top:372.40px;width:52.20px;height:18.33px;line-height:18.33px;">655.07</div>
<div class="t d" style="left:838.50px;top:372.40px;width:52.10px;height:18.33px;line-height:18.33px;">-2.50</div>
<div class="t d" style="left:890.60px;top:372.40px;width:76.80px;height:18.33px;line-height:18.33px;">746.70</div>
<div class="t d" style="left:967.40px;top:372.40px;width:68.90px;height:18.33px;line-height:18.33px;">-12.00</div>
<div class="t d" style="left:1036.30px;top:372.40px;width:68.70px;height:18.33px;line-height:18.33px;">21.92</div>
<div class="t d" style="left:1105.00px;top:372.40px;width:82.70px;height:18.33px;line-height:18.33px;">34.0000</div>
<div class="t d" style="left:1187.70px;top:372.40px;width:55.90px;height:18.33px;line-height:18.33px;">768.07</div>
<div class="t d dy" style="left:1243.60px;top:372.40px;width:56.40px;height:18.33px;line-height:18.33px;">0.50</div>
<div class="t p" style="left:48.30px;top:390.73px;width:46.70px;height:18.33px;line-height:18.33px;">SEP23</div>
<div class="t p" style="left:95.20px;top:390.73px;width:36.80px;height:18.33px;line-height:18.33px;">U23</div>
<div class="t d" style="left:133.50px;top:390.73px;width:71.80px;height:18.33px;line-height:18.33px;">856.00</div>
<div class="t d" style="left:205.30px;top:390.73px;width:58.10px;height:18.33px;line-height:18.33px;">79.62</div>
<div class="t d" style="left:263.40px;top:390.73px;width:47.90px;height:18.33px;line-height:18.33px;">81.30</div>
<div class="t d" style="left:311.30px;top:390.73px;width:50.90px;height:18.33px;line-height:18.33px;">743.70</div>
<div class="t d" style="left:407.60px;top:390.73px;width:48.10px;height:18.33px;line-height:18.33px;">2.38</div>
<div class="t d" style="left:455.70px;top:390.73px;width:42.10px;height:18.33px;line-height:18.33px;">4.25</div>
<div class="t d" style="left:497.80px;top:390.73px;width:52.20px;height:18.33px;line-height:18.33px;">13.88</div>
<div class="t d" style="left:550.00px;top:390.73px;width:52.20px;height:18.33px;line-height:18.33px;">729.82</div>
<div class="t d" style="left:602.20px;top:390.73px;width:51.10px;height:18.33px;line-height:18.33px;">-72.25</div>
<div class="t dl" style="left:653.30px;top:390.73px;width:40.30px;height:18.33px;line-height:18.33px;">238....</div>
<div class="t d" style="left:693.60px;top:390.73px;width:40.60px;height:18.33px;line-height:18.33px;">16.75</div>
<div class="t d" style="left:734.20px;top:390.73px;width:52.10px;height:18.33px;line-height:18.33px;">-45.99</div>
<div class="t d" style="left:786.30px;top:390.73px;width:52.20px;height:18.33px;line-height:18.33px;">657.57</div>
<div class="t d" style="left:838.50px;top:390.73px;width:52.10px;height:18.33px;line-height:18.33px;">-3.50</div>
<div class="t d" style="left:890.60px;top:390.73px;width:76.80px;height:18.33px;line-height:18.33px;">731.70</div>
<div class="t d" style="left:967.40px;top:390.73px;width:68.90px;height:18.33px;line-height:18.33px;">-12.00</div>
<div class="t d" style="left:1036.30px;top:390.73px;width:68.70px;height:18.33px;line-height:18.33px;">9.45</div>
<div class="t d" style="left:1105.00px;top:390.73px;width:82.70px;height:18.33px;line-height:18.33px;">37.7500</div>
<div class="t d" style="left:1187.70px;top:390.73px;width:55.90px;height:18.33px;line-height:18.33px;">767.57</div>
<div class="t d dy" style="left:1243.60px;top:390.73px;width:56.40px;height:18.33px;line-height:18.33px;">0.50</div>
<div class="t p" style="left:48.30px;top:409.06px;width:46.70px;height:18.33px;line-height:18.33px;">OCT23</div>
<div class="t p" style="left:95.20px;top:409.06px;width:36.80px;height:18.33px;line-height:18.33px;">V23</div>
<div class="t d" style="left:133.50px;top:409.06px;width:71.80px;height:18.33px;line-height:18.33px;">549.00</div>
<div class="t d" style="left:205.30px;top:409.06px;width:58.10px;height:18.33px;line-height:18.33px;">79.09</div>
<div class="t d" style="left:263.40px;top:409.06px;width:47.90px;height:18.33px;line-height:18.33px;">80.69</div>
<div class="t d dy" style="left:362.20px;top:409.06px;width:45.40px;height:18.33px;line-height:18.33px;">1</div>
<div class="t d" style="left:407.60px;top:409.06px;width:48.10px;height:18.33px;line-height:18.33px;">2.43</div>
<div class="t d" style="left:455.70px;top:409.06px;width:42.10px;height:18.33px;line-height:18.33px;">4.00</div>
<div class="t d" style="left:550.00px;top:409.06px;width:52.20px;height:18.33px;line-height:18.33px;">725.57</div>
<div class="t d" style="left:602.20px;top:409.06px;width:51.10px;height:18.33px;line-height:18.33px;">-64.50</div>
<div class="t dl" style="left:653.30px;top:409.06px;width:40.30px;height:18.33px;line-height:18.33px;">222....</div>
<div class="t d" style="left:693.60px;top:409.06px;width:40.60px;height:18.33px;line-height:18.33px;">4.66</div>
<div class="t d" style="left:734.20px;top:409.06px;width:52.10px;height:18.33px;line-height:18.33px;">-61.09</div>
<div class="t d" style="left:786.30px;top:409.06px;width:52.20px;height:18.33px;line-height:18.33px;">661.07</div>
<div class="t d" style="left:838.50px;top:409.06px;width:52.10px;height:18.33px;line-height:18.33px;">-3.00</div>
<div class="t d" style="left:967.40px;top:409.06px;width:68.90px;height:18.33px;line-height:18.33px;">9.00</div>
<div class="t d" style="left:1105.00px;top:409.06px;width:82.70px;height:18.33px;line-height:18.33px;">41.5000</div>
<div class="t d" style="left:1187.70px;top:409.06px;width:55.90px;height:18.33px;line-height:18.33px;">767.07</div>
<div class="t d dy" style="left:1243.60px;top:409.06px;width:56.40px;height:18.33px;line-height:18.33px;">0.50</div>
<div class="t p" style="left:48.30px;top:427.39px;width:46.70px;height:18.33px;line-height:18.33px;">NOV23</div>
<div class="t p" style="left:95.20px;top:427.39px;width:36.80px;height:18.33px;line-height:18.33px;">X23</div>
<div class="t d" style="left:133.50px;top:427.39px;width:71.80px;height:18.33px;line-height:18.33px;">615.00</div>
<div class="t d" style="left:205.30px;top:427.39px;width:58.10px;height:18.33px;line-height:18.33px;">78.53</div>
<div class="t d" style="left:263.40px;top:427.39px;width:47.90px;height:18.33px;line-height:18.33px;">80.15</div>
<div class="t d dy" style="left:362.20px;top:427.39px;width:45.40px;height:18.33px;line-height:18.33px;">2</div>
<div class="t d" style="left:407.60px;top:427.39px;width:48.10px;height:18.33px;line-height:18.33px;">2.55</div>
<div class="t d" style="left:455.70px;top:427.39px;width:42.10px;height:18.33px;line-height:18.33px;">4.00</div>
<div class="t d" style="left:550.00px;top:427.39px;width:52.20px;height:18.33px;line-height:18.33px;">721.57</div>
<div class="t d" style="left:602.20px;top:427.39px;width:51.10px;height:18.33px;line-height:18.33px;">-57.50</div>
<div class="t dl" style="left:653.30px;top:427.39px;width:40.30px;height:18.33px;line-height:18.33px;">217....</div>
<div class="t d" style="left:693.60px;top:427.39px;width:40.60px;height:18.33px;line-height:18.33px;">2.64</div>
<div class="t d" style="left:734.20px;top:427.39px;width:52.10px;height:18.33px;line-height:18.33px;">-63.99</div>
<div class="t d" style="left:786.30px;top:427.39px;width:52.20px;height:18.33px;line-height:18.33px;">664.07</div>
<div class="t d" style="left:838.50px;top:427.39px;width:52.10px;height:18.33px;line-height:18.33px;">-2.00</div>
<div class="t d" style="left:967.40px;top:427.39px;width:68.90px;height:18.33px;line-height:18.33px;">9.00</div>
<div class="t d" style="left:1105.00px;top:427.39px;width:82.70px;height:18.33px;line-height:18.33px;">45.0000</div>
<div class="t d" style="left:1187.70px;top:427.39px;width:55.90px;height:18.33px;line-height:18.33px;">766.57</div>
<div class="t d dy" style="left:1243.60px;top:427.39px;width:56.40px;height:18.33px;line-height:18.33px;">0.50</div>
<div class="t p" style="left:48.30px;top:445.72px;width:46.70px;height:18.33px;line-height:18.33px;">DEC23</div>
<div class="t p" style="left:95.20px;top:445.72px;width:36.80px;height:18.33px;line-height:18.33px;">Z23</div>
<div class="t d" style="left:133.50px;top:445.72px;width:71.80px;height:18.33px;line-height:18.33px;">220.00</div>
<div class="t d" style="left:205.30px;top:445.72px;width:58.10px;height:18.33px;line-height:18.33px;">77.95</div>
<div class="t d" style="left:263.40px;top:445.72px;width:47.90px;height:18.33px;line-height:18.33px;">79.14</div>
<div class="t d dy" style="left:362.20px;top:445.72px;width:45.40px;height:18.33px;line-height:18.33px;">3</div>
<div class="t d" style="left:407.60px;top:445.72px;width:48.10px;height:18.33px;line-height:18.33px;">2.67</div>
<div class="t d" style="left:455.70px;top:445.72px;width:42.10px;height:18.33px;line-height:18.33px;">4.00</div>
<div class="t d" style="left:550.00px;top:445.72px;width:52.20px;height:18.33px;line-height:18.33px;">717.57</div>
<div class="t d" style="left:602.20px;top:445.72px;width:51.10px;height:18.33px;line-height:18.33px;">-51.50</div>
<div class="t dl" style="left:653.30px;top:445.72px;width:40.30px;height:18.33px;line-height:18.33px;">214....</div>
<div class="t d" style="left:693.60px;top:445.72px;width:40.60px;height:18.33px;line-height:18.33px;">1.13</div>
<div class="t d" style="left:734.20px;top:445.72px;width:52.10px;height:18.33px;line-height:18.33px;">-64.79</div>
<div class="t d" style="left:786.30px;top:445.72px;width:52.20px;height:18.33px;line-height:18.33px;">666.07</div>
<div class="t d" style="left:838.50px;top:445.72px;width:52.10px;height:18.33px;line-height:18.33px;">10.00</div>
<div class="t d" style="left:967.40px;top:445.72px;width:68.90px;height:18.33px;line-height:18.33px;">9.00</div>
<div class="t d" style="left:1105.00px;top:445.72px;width:82.70px;height:18.33px;line-height:18.33px;">48.5000</div>
<div class="t d" style="left:1187.70px;top:445.72px;width:55.90px;height:18.33px;line-height:18.33px;">766.07</div>
<div class="t d dy" style="left:1243.60px;top:445.72px;width:56.40px;height:18.33px;line-height:18.33px;">0.50</div>
<div class="t tb" style="left:48.40px;top:473.90px;width:67.40px;height:15.50px;line-height:15.50px;color:#35353a;">WTI FT</div>
<div class="t tb" style="left:146.80px;top:473.90px;width:54.00px;height:15.50px;line-height:15.50px;color:#fff;overflow:visible;">LAST</div>
<div class="t tb" style="left:221.10px;top:473.90px;width:11.70px;height:15.50px;line-height:15.50px;color:#fff;">12</div>
<div class="t ct" style="left:40.80px;top:497.50px;width:203.40px;height:13.00px;line-height:13.00px;">WTI FT - LAST</div>
<div class="t yl" style="left:28.20px;top:574.40px;width:30.00px;height:12.00px;line-height:12.00px;">0</div>
<div class="t yl" style="left:28.20px;top:538.95px;width:30.00px;height:12.00px;line-height:12.00px;">50</div>
<div class="t yl" style="left:28.20px;top:503.50px;width:30.00px;height:12.00px;line-height:12.00px;">100</div>
<div class="t xl" style="left:70.90px;top:609.30px;width:20px;height:10px;line-height:10px;">X22</div>
<div class="t xl" style="left:85.00px;top:609.30px;width:20px;height:10px;line-height:10px;">Z22</div>
<div class="t xl" style="left:99.10px;top:609.30px;width:20px;height:10px;line-height:10px;">F23</div>
<div class="t xl" style="left:113.20px;top:609.30px;width:20px;height:10px;line-height:10px;">G23</div>
<div class="t xl" style="left:127.30px;top:609.30px;width:20px;height:10px;line-height:10px;">H23</div>
<div class="t xl" style="left:141.40px;top:609.30px;width:20px;height:10px;line-height:10px;">J23</div>
<div class="t xl" style="left:155.50px;top:609.30px;width:20px;height:10px;line-height:10px;">K23</div>
<div class="t xl" style="left:169.60px;top:609.30px;width:20px;height:10px;line-height:10px;">M23</div>
<div class="t xl" style="left:183.70px;top:609.30px;width:20px;height:10px;line-height:10px;">N23</div>
<div class="t xl" style="left:197.80px;top:609.30px;width:20px;height:10px;line-height:10px;">Q23</div>
<div class="t xl" style="left:211.90px;top:609.30px;width:20px;height:10px;line-height:10px;">U23</div>
<div class="t xl" style="left:226.00px;top:609.30px;width:20px;height:10px;line-height:10px;">V23</div>
<div class="t tb" style="left:253.30px;top:473.90px;width:67.40px;height:15.50px;line-height:15.50px;color:#35353a;">HO TS</div>
<div class="t tb" style="left:351.70px;top:473.90px;width:54.00px;height:15.50px;line-height:15.50px;color:#fff;overflow:visible;">CLOSE</div>
<div class="t tb" style="left:426.00px;top:473.90px;width:11.70px;height:15.50px;line-height:15.50px;color:#fff;">12</div>
<div class="t ct" style="left:245.70px;top:497.50px;width:203.10px;height:13.00px;line-height:13.00px;">HO TS - CLOSE</div>
<div class="t yl" style="left:228.20px;top:574.40px;width:30.00px;height:12.00px;line-height:12.00px;">0</div>
<div class="t yl" style="left:228.20px;top:550.77px;width:30.00px;height:12.00px;line-height:12.00px;">5</div>
<div class="t yl" style="left:228.20px;top:527.13px;width:30.00px;height:12.00px;line-height:12.00px;">10</div>
<div class="t yl" style="left:228.20px;top:503.50px;width:30.00px;height:12.00px;line-height:12.00px;">15</div>
<div class="t xl" style="left:270.30px;top:609.30px;width:20px;height:10px;line-height:10px;">X22</div>
<div class="t xl" style="left:284.82px;top:609.30px;width:20px;height:10px;line-height:10px;">Z22</div>
<div class="t xl" style="left:299.34px;top:609.30px;width:20px;height:10px;line-height:10px;">F23</div>
<div class="t xl" style="left:313.86px;top:609.30px;width:20px;height:10px;line-height:10px;">G23</div>
<div class="t xl" style="left:328.38px;top:609.30px;width:20px;height:10px;line-height:10px;">H23</div>
<div class="t xl" style="left:342.90px;top:609.30px;width:20px;height:10px;line-height:10px;">J23</div>
<div class="t xl" style="left:357.42px;top:609.30px;width:20px;height:10px;line-height:10px;">K23</div>
<div class="t xl" style="left:371.94px;top:609.30px;width:20px;height:10px;line-height:10px;">M23</div>
<div class="t xl" style="left:386.46px;top:609.30px;width:20px;height:10px;line-height:10px;">N23</div>
<div class="t xl" style="left:400.98px;top:609.30px;width:20px;height:10px;line-height:10px;">Q23</div>
<div class="t xl" style="left:415.50px;top:609.30px;width:20px;height:10px;line-height:10px;">U23</div>
<div class="t xl" style="left:430.02px;top:609.30px;width:20px;height:10px;line-height:10px;">V23</div>
<div class="t tb" style="left:457.90px;top:473.90px;width:67.40px;height:15.50px;line-height:15.50px;color:#35353a;">RB SW</div>
<div class="t tb" style="left:556.30px;top:473.90px;width:54.00px;height:15.50px;line-height:15.50px;color:#fff;overflow:visible;">PRICING-DAYS</div>
<div class="t tb" style="left:630.60px;top:473.90px;width:11.70px;height:15.50px;line-height:15.50px;color:#fff;">12</div>
<div class="t ct" style="left:450.30px;top:497.50px;width:203.00px;height:13.00px;line-height:13.00px;">RB SW - PRICING-DAYS</div>
<div class="t yl" style="left:433.20px;top:574.40px;width:30.00px;height:12.00px;line-height:12.00px;">0</div>
<div class="t yl" style="left:433.20px;top:550.77px;width:30.00px;height:12.00px;line-height:12.00px;">10</div>
<div class="t yl" style="left:433.20px;top:527.13px;width:30.00px;height:12.00px;line-height:12.00px;">20</div>
<div class="t yl" style="left:433.20px;top:503.50px;width:30.00px;height:12.00px;line-height:12.00px;">30</div>
<div class="t xl" style="left:475.30px;top:609.30px;width:20px;height:10px;line-height:10px;">V22</div>
<div class="t xl" style="left:489.77px;top:609.30px;width:20px;height:10px;line-height:10px;">X22</div>
<div class="t xl" style="left:504.24px;top:609.30px;width:20px;height:10px;line-height:10px;">Z22</div>
<div class="t xl" style="left:518.71px;top:609.30px;width:20px;height:10px;line-height:10px;">F23</div>
<div class="t xl" style="left:533.18px;top:609.30px;width:20px;height:10px;line-height:10px;">G23</div>
<div class="t xl" style="left:547.65px;top:609.30px;width:20px;height:10px;line-height:10px;">H23</div>
<div class="t xl" style="left:562.12px;top:609.30px;width:20px;height:10px;line-height:10px;">J23</div>
<div class="t xl" style="left:576.59px;top:609.30px;width:20px;height:10px;line-height:10px;">K23</div>
<div class="t xl" style="left:591.06px;top:609.30px;width:20px;height:10px;line-height:10px;">M23</div>
<div class="t xl" style="left:605.53px;top:609.30px;width:20px;height:10px;line-height:10px;">N23</div>
<div class="t xl" style="left:620.00px;top:609.30px;width:20px;height:10px;line-height:10px;">Q23</div>
<div class="t xl" style="left:634.47px;top:609.30px;width:20px;height:10px;line-height:10px;">U23</div>
<div class="t tb" style="left:662.40px;top:473.90px;width:67.40px;height:15.50px;line-height:15.50px;color:#35353a;">BRT SW</div>
<div class="t tb" style="left:760.80px;top:473.90px;width:54.00px;height:15.50px;line-height:15.50px;color:#fff;overflow:visible;">FV</div>
<div class="t tb" style="left:835.10px;top:473.90px;width:11.70px;height:15.50px;line-height:15.50px;color:#fff;">12</div>
<div class="t ct" style="left:654.80px;top:497.50px;width:203.20px;height:13.00px;line-height:13.00px;">BRT SW</div>
<div class="t yl" style="left:642.80px;top:574.40px;width:30.00px;height:12.00px;line-height:12.00px;">0</div>
<div class="t yl" style="left:642.80px;top:538.95px;width:30.00px;height:12.00px;line-height:12.00px;">50</div>
<div class="t yl" style="left:642.80px;top:503.50px;width:30.00px;height:12.00px;line-height:12.00px;">100</div>
<div class="t xl" style="left:684.80px;top:609.30px;width:20px;height:10px;line-height:10px;">V22</div>
<div class="t xl" style="left:698.89px;top:609.30px;width:20px;height:10px;line-height:10px;">X22</div>
<div class="t xl" style="left:712.98px;top:609.30px;width:20px;height:10px;line-height:10px;">Z22</div>
<div class="t xl" style="left:727.07px;top:609.30px;width:20px;height:10px;line-height:10px;">F23</div>
<div class="t xl" style="left:741.16px;top:609.30px;width:20px;height:10px;line-height:10px;">G23</div>
<div class="t xl" style="left:755.25px;top:609.30px;width:20px;height:10px;line-height:10px;">H23</div>
<div class="t xl" style="left:769.34px;top:609.30px;width:20px;height:10px;line-height:10px;">J23</div>
<div class="t xl" style="left:783.43px;top:609.30px;width:20px;height:10px;line-height:10px;">K23</div>
<div class="t xl" style="left:797.52px;top:609.30px;width:20px;height:10px;line-height:10px;">M23</div>
<div class="t xl" style="left:811.61px;top:609.30px;width:20px;height:10px;line-height:10px;">N23</div>
<div class="t xl" style="left:825.70px;top:609.30px;width:20px;height:10px;line-height:10px;">Q23</div>
<div class="t xl" style="left:839.79px;top:609.30px;width:20px;height:10px;line-height:10px;">U23</div>
<div class="t tb" style="left:867.10px;top:473.90px;width:67.40px;height:15.50px;line-height:15.50px;color:#35353a;">HO TS</div>
<div class="t tb" style="left:965.50px;top:473.90px;width:54.00px;height:15.50px;line-height:15.50px;color:#fff;overflow:visible;">FV</div>
<div class="t tb" style="left:1039.80px;top:473.90px;width:11.70px;height:15.50px;line-height:15.50px;color:#fff;">12</div>
<div class="t ct" style="left:859.50px;top:497.50px;width:202.90px;height:13.00px;line-height:13.00px;">HO TS</div>
<div class="t yl" style="left:842.00px;top:574.40px;width:30.00px;height:12.00px;line-height:12.00px;">0</div>
<div class="t yl" style="left:842.00px;top:550.77px;width:30.00px;height:12.00px;line-height:12.00px;">5</div>
<div class="t yl" style="left:842.00px;top:527.13px;width:30.00px;height:12.00px;line-height:12.00px;">10</div>
<div class="t yl" style="left:842.00px;top:503.50px;width:30.00px;height:12.00px;line-height:12.00px;">15</div>
<div class="t xl" style="left:884.00px;top:609.30px;width:20px;height:10px;line-height:10px;">X22</div>
<div class="t xl" style="left:898.54px;top:609.30px;width:20px;height:10px;line-height:10px;">Z22</div>
<div class="t xl" style="left:913.08px;top:609.30px;width:20px;height:10px;line-height:10px;">F23</div>
<div class="t xl" style="left:927.62px;top:609.30px;width:20px;height:10px;line-height:10px;">G23</div>
<div class="t xl" style="left:942.16px;top:609.30px;width:20px;height:10px;line-height:10px;">H23</div>
<div class="t xl" style="left:956.70px;top:609.30px;width:20px;height:10px;line-height:10px;">J23</div>
<div class="t xl" style="left:971.24px;top:609.30px;width:20px;height:10px;line-height:10px;">K23</div>
<div class="t xl" style="left:985.78px;top:609.30px;width:20px;height:10px;line-height:10px;">M23</div>
<div class="t xl" style="left:1000.32px;top:609.30px;width:20px;height:10px;line-height:10px;">N23</div>
<div class="t xl" style="left:1014.86px;top:609.30px;width:20px;height:10px;line-height:10px;">Q23</div>
<div class="t xl" style="left:1029.40px;top:609.30px;width:20px;height:10px;line-height:10px;">U23</div>
<div class="t xl" style="left:1043.94px;top:609.30px;width:20px;height:10px;line-height:10px;">V23</div>
<div class="t tb" style="left:1071.50px;top:473.90px;width:67.40px;height:15.50px;line-height:15.50px;color:#35353a;">BRT FT</div>
<div class="t tb" style="left:1169.90px;top:473.90px;width:54.00px;height:15.50px;line-height:15.50px;color:#fff;overflow:visible;">HIGH</div>
<div class="t tb" style="left:1244.20px;top:473.90px;width:11.70px;height:15.50px;line-height:15.50px;color:#fff;">12</div>
<div class="t ct" style="left:1063.90px;top:497.50px;width:203.20px;height:13.00px;line-height:13.00px;">BRT FT - HIGH</div>
<div class="t yl" style="left:1051.30px;top:574.40px;width:30.00px;height:12.00px;line-height:12.00px;">0</div>
<div class="t yl" style="left:1051.30px;top:538.95px;width:30.00px;height:12.00px;line-height:12.00px;">50</div>
<div class="t yl" style="left:1051.30px;top:503.50px;width:30.00px;height:12.00px;line-height:12.00px;">100</div>
<div class="t xl" style="left:1094.10px;top:609.30px;width:20px;height:10px;line-height:10px;">Z22</div>
<div class="t xl" style="left:1108.20px;top:609.30px;width:20px;height:10px;line-height:10px;">F23</div>
<div class="t xl" style="left:1122.30px;top:609.30px;width:20px;height:10px;line-height:10px;">G23</div>
<div class="t xl" style="left:1136.40px;top:609.30px;width:20px;height:10px;line-height:10px;">H23</div>
<div class="t xl" style="left:1150.50px;top:609.30px;width:20px;height:10px;line-height:10px;">J23</div>
<div class="t xl" style="left:1164.60px;top:609.30px;width:20px;height:10px;line-height:10px;">K23</div>
<div class="t xl" style="left:1178.70px;top:609.30px;width:20px;height:10px;line-height:10px;">M23</div>
<div class="t xl" style="left:1192.80px;top:609.30px;width:20px;height:10px;line-height:10px;">N23</div>
<div class="t xl" style="left:1206.90px;top:609.30px;width:20px;height:10px;line-height:10px;">Q23</div>
<div class="t xl" style="left:1221.00px;top:609.30px;width:20px;height:10px;line-height:10px;">U23</div>
<div class="t xl" style="left:1235.10px;top:609.30px;width:20px;height:10px;line-height:10px;">V23</div>
<div class="t xl" style="left:1249.20px;top:609.30px;width:20px;height:10px;line-height:10px;">X23</div>
<div class="t tb" style="left:1276.00px;top:473.90px;width:24.00px;height:15.50px;line-height:15.50px;color:#35353a;">Select ...</div>
<div class="t" style="left:47.00px;top:622.00px;width:19.00px;height:14.00px;line-height:14.00px;font-weight:bold;font-size:8.2px;color:#f0f0f4;">EOD</div>
<div class="t st" style="left:70.40px;top:622.00px;width:50.60px;height:14.00px;line-height:14.00px;">2021/07/05</div>
<div class="t st" style="left:138.30px;top:623.20px;width:27.70px;height:13.40px;line-height:13.40px;text-align:center;">70</div>
<div class="t" style="left:175.80px;top:622.60px;width:89.20px;height:13.20px;line-height:13.20px;font-size:8.6px;color:#566080;text-align:center;">Set Column Widths</div>
<div class="t" style="left:277.40px;top:622.60px;width:97.80px;height:13.20px;line-height:13.20px;font-size:8.6px;color:#566080;text-align:center;">Pause Exchange Data</div>
<div class="t" style="left:976.00px;top:622.00px;width:50.00px;height:14.00px;line-height:14.00px;font-size:8.7px;color:#e4e4ea;font-weight:bold;">Count:</div>
<div class="t" style="left:1009.80px;top:622.00px;width:50.00px;height:14.00px;line-height:14.00px;font-size:8.7px;color:#e4e4ea;">0.0000</div>
<div class="t" style="left:1044.00px;top:622.00px;width:50.00px;height:14.00px;line-height:14.00px;font-size:8.7px;color:#e4e4ea;font-weight:bold;">Sum:</div>
<div class="t" style="left:1071.70px;top:622.00px;width:50.00px;height:14.00px;line-height:14.00px;font-size:8.7px;color:#e4e4ea;">0.0000</div>
<div class="t" style="left:1106.20px;top:622.00px;width:50.00px;height:14.00px;line-height:14.00px;font-size:8.7px;color:#e4e4ea;font-weight:bold;">Average:</div>
<div class="t" style="left:1148.60px;top:622.00px;width:50.00px;height:14.00px;line-height:14.00px;font-size:8.7px;color:#e4e4ea;">0.0000</div>
</div></body></html>
